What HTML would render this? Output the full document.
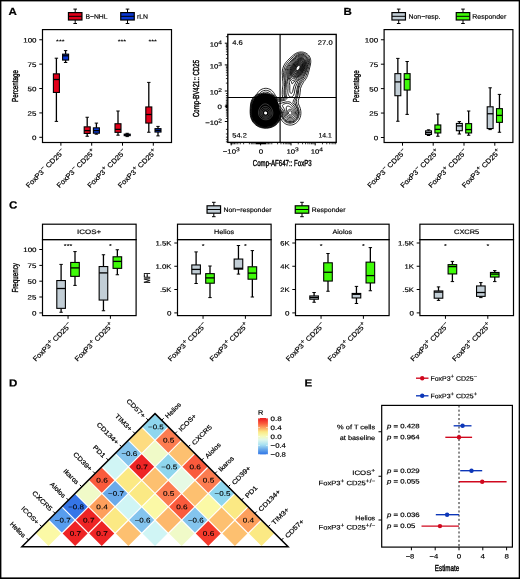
<!DOCTYPE html>
<html lang="en">
<head>
<meta charset="utf-8">
<title>Figure</title>
<style>
html,body{margin:0;padding:0;background:#fff;}
body{width:520px;height:579px;overflow:hidden;position:relative;}
svg{display:block;position:absolute;left:0;top:0;}
svg text{font-family:"Liberation Sans", "DejaVu Sans", sans-serif;}
</style>
</head>
<body>
<svg width="520" height="579" viewBox="0 0 520 579">
<rect x="0" y="0" width="520" height="579" fill="#fff"/>
<text transform="translate(8.40 14.90) rotate(0.03) scale(1.12 1)" font-size="10.30" text-anchor="start" fill="#000" font-weight="bold" stroke="#000" stroke-width="0.20">A</text>
<line x1="75.20" y1="9.10" x2="75.20" y2="23.50" stroke="#000" stroke-width="1.00"/>
<line x1="73.40" y1="9.10" x2="77.00" y2="9.10" stroke="#000" stroke-width="1.00"/>
<line x1="73.40" y1="23.50" x2="77.00" y2="23.50" stroke="#000" stroke-width="1.00"/>
<rect x="68.45" y="12.60" width="13.50" height="7.40" fill="#e2001a" stroke="#000" stroke-width="1.20"/>
<line x1="68.45" y1="16.30" x2="81.95" y2="16.30" stroke="#000" stroke-width="1.00"/>
<text transform="translate(85.40 18.70) rotate(0.03) scale(1.051 1)" font-size="6.50" text-anchor="start" fill="#000" stroke="#000" stroke-width="0.17">B−NHL</text>
<line x1="127.50" y1="9.10" x2="127.50" y2="23.50" stroke="#000" stroke-width="1.00"/>
<line x1="125.70" y1="9.10" x2="129.30" y2="9.10" stroke="#000" stroke-width="1.00"/>
<line x1="125.70" y1="23.50" x2="129.30" y2="23.50" stroke="#000" stroke-width="1.00"/>
<rect x="120.75" y="12.60" width="13.50" height="7.40" fill="#0a38d2" stroke="#000" stroke-width="1.20"/>
<line x1="120.75" y1="16.30" x2="134.25" y2="16.30" stroke="#000" stroke-width="1.00"/>
<text transform="translate(137.00 18.70) rotate(0.03) scale(1.061 1)" font-size="6.50" text-anchor="start" fill="#000" stroke="#000" stroke-width="0.17">rLN</text>
<rect x="42.50" y="29.60" width="129.00" height="112.90" fill="none" stroke="#000" stroke-width="1.20"/>
<line x1="39.30" y1="137.30" x2="42.50" y2="137.30" stroke="#000" stroke-width="1.00"/>
<text transform="translate(36.50 140.05) rotate(0.03) scale(1.23 1)" font-size="6.50" text-anchor="end" fill="#000" stroke="#000" stroke-width="0.17">0</text>
<line x1="39.30" y1="112.91" x2="42.50" y2="112.91" stroke="#000" stroke-width="1.00"/>
<text transform="translate(36.50 115.66) rotate(0.03) scale(1.23 1)" font-size="6.50" text-anchor="end" fill="#000" stroke="#000" stroke-width="0.17">25</text>
<line x1="39.30" y1="88.53" x2="42.50" y2="88.53" stroke="#000" stroke-width="1.00"/>
<text transform="translate(36.50 91.28) rotate(0.03) scale(1.23 1)" font-size="6.50" text-anchor="end" fill="#000" stroke="#000" stroke-width="0.17">50</text>
<line x1="39.30" y1="64.14" x2="42.50" y2="64.14" stroke="#000" stroke-width="1.00"/>
<text transform="translate(36.50 66.89) rotate(0.03) scale(1.23 1)" font-size="6.50" text-anchor="end" fill="#000" stroke="#000" stroke-width="0.17">75</text>
<line x1="39.30" y1="39.75" x2="42.50" y2="39.75" stroke="#000" stroke-width="1.00"/>
<text transform="translate(36.50 42.50) rotate(0.03) scale(1.23 1)" font-size="6.50" text-anchor="end" fill="#000" stroke="#000" stroke-width="0.17">100</text>
<text transform="translate(17.80 86.00) rotate(-89.97) scale(0.72 1)" font-size="8.70" text-anchor="middle" fill="#000" stroke="#000" stroke-width="0.40">Percentage</text>
<line x1="60.90" y1="142.50" x2="60.90" y2="145.70" stroke="#000" stroke-width="1.00"/>
<text transform="translate(64.85 152.05) rotate(-45) scale(1.09 1)" font-size="7.00" text-anchor="end" fill="#000" stroke="#000" stroke-width="0.20">FoxP3<tspan dy="-2.80" font-size="5.95">−</tspan><tspan dy="2.80" font-size="7.00">&#8203;</tspan> CD25<tspan dy="-2.80" font-size="5.95">−</tspan><tspan dy="2.80" font-size="7.00">&#8203;</tspan></text>
<line x1="91.70" y1="142.50" x2="91.70" y2="145.70" stroke="#000" stroke-width="1.00"/>
<text transform="translate(95.75 152.05) rotate(-45) scale(1.09 1)" font-size="7.00" text-anchor="end" fill="#000" stroke="#000" stroke-width="0.20">FoxP3<tspan dy="-2.80" font-size="5.95">−</tspan><tspan dy="2.80" font-size="7.00">&#8203;</tspan> CD25<tspan dy="-2.80" font-size="5.95">+</tspan><tspan dy="2.80" font-size="7.00">&#8203;</tspan></text>
<line x1="122.50" y1="142.50" x2="122.50" y2="145.70" stroke="#000" stroke-width="1.00"/>
<text transform="translate(126.45 152.05) rotate(-45) scale(1.09 1)" font-size="7.00" text-anchor="end" fill="#000" stroke="#000" stroke-width="0.20">FoxP3<tspan dy="-2.80" font-size="5.95">+</tspan><tspan dy="2.80" font-size="7.00">&#8203;</tspan> CD25<tspan dy="-2.80" font-size="5.95">−</tspan><tspan dy="2.80" font-size="7.00">&#8203;</tspan></text>
<line x1="153.30" y1="142.50" x2="153.30" y2="145.70" stroke="#000" stroke-width="1.00"/>
<text transform="translate(157.05 152.05) rotate(-45) scale(1.09 1)" font-size="7.00" text-anchor="end" fill="#000" stroke="#000" stroke-width="0.20">FoxP3<tspan dy="-2.80" font-size="5.95">+</tspan><tspan dy="2.80" font-size="7.00">&#8203;</tspan> CD25<tspan dy="-2.80" font-size="5.95">+</tspan><tspan dy="2.80" font-size="7.00">&#8203;</tspan></text>
<line x1="56.40" y1="58.20" x2="56.40" y2="73.85" stroke="#000" stroke-width="1.30"/>
<line x1="56.40" y1="92.45" x2="56.40" y2="121.40" stroke="#000" stroke-width="1.30"/>
<line x1="54.70" y1="58.20" x2="58.10" y2="58.20" stroke="#000" stroke-width="1.00"/>
<line x1="54.70" y1="121.40" x2="58.10" y2="121.40" stroke="#000" stroke-width="1.00"/>
<rect x="53.40" y="73.85" width="6.00" height="18.60" fill="#e2001a" stroke="#000" stroke-width="1.10"/>
<line x1="53.40" y1="79.50" x2="59.40" y2="79.50" stroke="#000" stroke-width="1.30"/>
<line x1="65.60" y1="50.60" x2="65.60" y2="54.15" stroke="#000" stroke-width="1.30"/>
<line x1="65.60" y1="60.05" x2="65.60" y2="62.50" stroke="#000" stroke-width="1.30"/>
<line x1="63.90" y1="50.60" x2="67.30" y2="50.60" stroke="#000" stroke-width="1.00"/>
<line x1="63.90" y1="62.50" x2="67.30" y2="62.50" stroke="#000" stroke-width="1.00"/>
<rect x="62.60" y="54.15" width="6.00" height="5.90" fill="#0a38d2" stroke="#000" stroke-width="1.10"/>
<line x1="62.60" y1="55.80" x2="68.60" y2="55.80" stroke="#000" stroke-width="1.30"/>
<line x1="87.20" y1="117.25" x2="87.20" y2="126.85" stroke="#000" stroke-width="1.30"/>
<line x1="87.20" y1="133.45" x2="87.20" y2="136.25" stroke="#000" stroke-width="1.30"/>
<line x1="85.50" y1="117.25" x2="88.90" y2="117.25" stroke="#000" stroke-width="1.00"/>
<line x1="85.50" y1="136.25" x2="88.90" y2="136.25" stroke="#000" stroke-width="1.00"/>
<rect x="84.20" y="126.85" width="6.00" height="6.60" fill="#e2001a" stroke="#000" stroke-width="1.10"/>
<line x1="84.20" y1="130.60" x2="90.20" y2="130.60" stroke="#000" stroke-width="1.30"/>
<line x1="96.40" y1="123.10" x2="96.40" y2="127.85" stroke="#000" stroke-width="1.30"/>
<line x1="96.40" y1="133.20" x2="96.40" y2="134.20" stroke="#000" stroke-width="1.30"/>
<line x1="94.70" y1="123.10" x2="98.10" y2="123.10" stroke="#000" stroke-width="1.00"/>
<line x1="94.70" y1="134.20" x2="98.10" y2="134.20" stroke="#000" stroke-width="1.00"/>
<rect x="93.40" y="127.85" width="6.00" height="5.35" fill="#0a38d2" stroke="#000" stroke-width="1.10"/>
<line x1="93.40" y1="130.60" x2="99.40" y2="130.60" stroke="#000" stroke-width="1.30"/>
<line x1="118.00" y1="111.00" x2="118.00" y2="123.75" stroke="#000" stroke-width="1.30"/>
<line x1="118.00" y1="132.35" x2="118.00" y2="135.20" stroke="#000" stroke-width="1.30"/>
<line x1="116.30" y1="111.00" x2="119.70" y2="111.00" stroke="#000" stroke-width="1.00"/>
<line x1="116.30" y1="135.20" x2="119.70" y2="135.20" stroke="#000" stroke-width="1.00"/>
<rect x="115.00" y="123.75" width="6.00" height="8.60" fill="#e2001a" stroke="#000" stroke-width="1.10"/>
<line x1="115.00" y1="129.40" x2="121.00" y2="129.40" stroke="#000" stroke-width="1.30"/>
<line x1="127.20" y1="133.30" x2="127.20" y2="134.15" stroke="#000" stroke-width="1.30"/>
<line x1="127.20" y1="135.65" x2="127.20" y2="136.60" stroke="#000" stroke-width="1.30"/>
<line x1="125.50" y1="133.30" x2="128.90" y2="133.30" stroke="#000" stroke-width="1.00"/>
<line x1="125.50" y1="136.60" x2="128.90" y2="136.60" stroke="#000" stroke-width="1.00"/>
<rect x="124.20" y="134.15" width="6.00" height="1.50" fill="#0a38d2" stroke="#000" stroke-width="1.10"/>
<line x1="124.20" y1="134.90" x2="130.20" y2="134.90" stroke="#000" stroke-width="1.30"/>
<line x1="148.80" y1="82.40" x2="148.80" y2="106.95" stroke="#000" stroke-width="1.30"/>
<line x1="148.80" y1="123.05" x2="148.80" y2="132.25" stroke="#000" stroke-width="1.30"/>
<line x1="147.10" y1="82.40" x2="150.50" y2="82.40" stroke="#000" stroke-width="1.00"/>
<line x1="147.10" y1="132.25" x2="150.50" y2="132.25" stroke="#000" stroke-width="1.00"/>
<rect x="145.80" y="106.95" width="6.00" height="16.10" fill="#e2001a" stroke="#000" stroke-width="1.10"/>
<line x1="145.80" y1="114.50" x2="151.80" y2="114.50" stroke="#000" stroke-width="1.30"/>
<line x1="158.00" y1="126.40" x2="158.00" y2="128.65" stroke="#000" stroke-width="1.30"/>
<line x1="158.00" y1="132.05" x2="158.00" y2="135.90" stroke="#000" stroke-width="1.30"/>
<line x1="156.30" y1="126.40" x2="159.70" y2="126.40" stroke="#000" stroke-width="1.00"/>
<line x1="156.30" y1="135.90" x2="159.70" y2="135.90" stroke="#000" stroke-width="1.00"/>
<rect x="155.00" y="128.65" width="6.00" height="3.40" fill="#0a38d2" stroke="#000" stroke-width="1.10"/>
<line x1="155.00" y1="130.40" x2="161.00" y2="130.40" stroke="#000" stroke-width="1.30"/>
<text transform="translate(60.30 43.50) rotate(0.03) scale(1.2 1)" font-size="6.00" text-anchor="middle" fill="#000" font-weight="bold">***</text>
<text transform="translate(121.90 43.50) rotate(0.03) scale(1.2 1)" font-size="6.00" text-anchor="middle" fill="#000" font-weight="bold">***</text>
<text transform="translate(152.70 43.50) rotate(0.03) scale(1.2 1)" font-size="6.00" text-anchor="middle" fill="#000" font-weight="bold">***</text>
<g id="flow">
<path fill="#000" fill-rule="evenodd" stroke="none" d="M263.11 93.60 264.60 93.48 266.20 93.52 267.80 93.73 269.40 94.12 270.80 94.63 272.20 95.32 273.40 96.10 274.50 97.00 275.40 97.92 276.26 99.00 277.02 100.20 277.71 101.60 278.26 103.00 278.82 104.80 279.36 107.00 279.73 109.00 279.96 110.80 280.06 112.40 280.02 114.00 279.87 115.40 279.59 116.80 279.17 118.20 278.57 119.60 277.90 120.80 277.05 122.00 276.16 123.00 275.04 124.00 273.91 124.80 272.80 125.42 271.40 126.03 270.00 126.47 268.39 126.80 267.00 126.95 265.40 126.99 263.80 126.88 262.40 126.65 261.00 126.30 259.60 125.79 258.40 125.22 257.20 124.49 256.20 123.73 255.20 122.79 254.34 121.80 253.51 120.60 252.85 119.40 252.26 118.00 251.84 116.60 251.56 115.20 251.36 113.40 251.33 111.40 251.45 109.00 251.70 106.40 252.00 104.40 252.35 102.80 252.80 101.40 253.43 100.00 254.20 98.73 255.11 97.60 256.20 96.55 257.40 95.66 258.60 94.97 260.00 94.36 261.60 93.88ZM265.16 111.60 265.60 111.56 266.20 111.71 266.63 112.00 267.04 112.60 267.13 113.20 267.00 113.71 266.61 114.20 266.20 114.43 265.60 114.52 265.00 114.40 264.43 114.00 264.17 113.60 264.04 113.00 264.18 112.40 264.60 111.87Z"/><path fill="none" stroke="#fff" stroke-opacity="0.45" stroke-width="0.5" d="M265.10 109.80 265.80 109.78 266.40 109.89 267.00 110.12 267.45 110.40 268.00 110.88 268.40 111.40 268.70 112.00 268.86 112.60 268.91 113.20 268.84 113.80 268.63 114.40 268.40 114.80 268.00 115.26 267.57 115.60 267.00 115.89 266.40 116.07 265.80 116.14 265.00 116.06 264.40 115.88 263.85 115.60 263.40 115.25 263.00 114.80 262.65 114.20 262.47 113.60 262.41 113.00 262.47 112.40 262.64 111.80 263.00 111.14 263.46 110.60 263.99 110.20 264.60 109.92ZM265.36 108.20 266.20 108.27 267.00 108.52 267.80 108.94 268.60 109.58 269.20 110.28 269.63 111.00 269.95 111.80 270.14 112.80 270.12 113.60 269.95 114.40 269.60 115.17 269.14 115.80 268.48 116.40 267.80 116.80 267.00 117.10 266.00 117.26 265.00 117.21 264.20 117.02 263.40 116.67 262.70 116.20 262.10 115.60 261.59 114.80 261.29 114.00 261.16 113.20 261.20 112.24 261.40 111.40 261.74 110.60 262.27 109.80 262.86 109.20 263.60 108.68 264.40 108.35ZM264.11 106.60 265.20 106.42 266.20 106.50 267.40 106.91 268.40 107.52 269.40 108.41 270.19 109.40 270.80 110.51 271.17 111.60 271.35 112.80 271.31 113.80 271.09 114.80 270.62 115.80 270.00 116.63 269.20 117.33 268.20 117.89 267.20 118.22 266.00 118.38 264.80 118.31 263.80 118.07 262.73 117.60 261.80 116.95 261.08 116.20 260.46 115.20 260.10 114.20 259.94 113.20 259.98 112.00 260.25 110.80 260.76 109.60 261.40 108.60 262.20 107.72 263.20 106.99ZM264.15 104.00 265.40 103.89 266.60 104.09 268.00 104.71 269.20 105.58 270.40 106.82 271.40 108.23 272.18 109.80 272.66 111.40 272.83 112.80 272.74 114.20 272.40 115.50 271.80 116.70 271.00 117.70 270.00 118.54 268.80 119.18 267.40 119.61 266.00 119.76 264.40 119.64 263.00 119.26 261.66 118.60 260.60 117.79 259.73 116.80 259.05 115.60 258.61 114.20 258.47 112.60 258.63 111.00 259.08 109.40 259.80 107.81 260.80 106.29 261.80 105.24 263.00 104.42Z"/><path fill="#000" fill-opacity="0.5" fill-rule="evenodd" stroke="none" d="M299.95 57.60 300.60 57.49 301.40 57.47 302.20 57.58 302.80 57.77 303.40 58.05 304.00 58.47 304.85 59.40 305.44 60.60 305.74 62.00 305.74 63.60 305.41 65.60 304.66 68.20 303.70 70.60 302.60 72.68 301.40 74.40 300.00 75.90 298.60 76.96 297.00 77.74 296.20 77.96 295.40 78.08 294.00 78.02 292.67 77.60 291.60 76.92 291.06 76.40 290.60 75.82 289.95 74.60 289.55 73.20 289.44 71.60 289.65 70.00 290.23 68.20 291.17 66.40 292.44 64.60 295.20 61.20 296.44 59.80 297.60 58.75 298.80 58.01ZM298.71 65.60 299.40 65.57 299.80 65.92 299.99 66.80 299.80 67.80 299.40 68.62 299.00 69.20 298.60 69.60 297.80 70.03 297.00 70.03 296.72 69.80 296.56 69.60 296.45 69.20 296.45 68.60 296.58 68.00 296.80 67.51 297.39 66.60 298.00 65.99Z"/><path fill="none" stroke="#000" stroke-width="0.85" stroke-linejoin="round" d="M299.23 52.20 300.00 52.05 301.60 52.01 302.60 52.07 303.60 52.26 304.40 52.48 305.80 53.06 306.80 53.66 307.60 54.28 308.35 55.00 309.15 56.00 309.93 57.40 310.52 59.20 310.74 60.60 310.77 61.40 310.73 62.60 310.35 65.00 308.54 72.40 307.55 75.60 306.75 77.40 305.73 79.20 304.71 80.60 303.60 81.80 302.60 83.79 301.60 85.51 300.50 88.40 300.09 92.80 299.77 95.20 299.18 97.80 298.31 100.20 298.19 102.20 298.49 103.80 298.87 105.00 299.71 106.80 300.32 108.60 300.67 110.20 300.87 111.80 300.88 113.80 300.65 115.60 300.16 117.40 299.48 119.00 298.65 120.40 297.70 121.60 296.60 122.67 295.40 123.55 294.20 124.20 292.80 124.71 291.40 125.00 290.00 125.08 288.60 124.95 287.20 124.60 285.80 124.02 284.60 123.30 283.40 122.34 282.40 121.28 281.61 120.20 280.72 118.60 280.60 118.54 279.71 120.20 278.60 121.89 277.80 122.96 277.05 123.80 276.00 124.77 275.00 125.53 273.80 126.26 272.60 126.85 271.20 127.37 269.80 127.75 268.20 128.04 266.60 128.18 265.00 128.18 263.40 128.05 261.80 127.77 260.40 127.39 258.80 126.79 257.20 125.95 255.80 124.98 254.40 123.72 253.27 122.40 252.34 121.00 251.53 119.40 250.89 117.60 250.43 115.60 250.18 113.40 250.13 111.00 250.27 107.80 250.51 105.00 250.83 103.00 251.32 101.20 252.07 99.40 252.77 98.20 253.67 97.00 255.00 95.66 256.69 94.40 258.09 92.20 258.80 91.38 259.60 90.62 260.80 89.75 262.20 89.03 263.60 88.57 265.20 88.34 266.80 88.38 268.40 88.72 270.00 89.37 271.40 90.26 272.48 91.20 273.52 92.40 274.20 93.41 275.47 95.60 276.05 96.40 276.80 97.13 277.60 97.65 278.94 98.20 280.00 98.32 282.00 97.95 282.64 97.60 282.72 97.40 282.45 96.00 282.27 94.40 282.22 92.00 282.43 89.20 283.02 85.00 282.85 81.80 282.42 78.20 282.41 75.20 282.25 74.00 282.23 72.20 282.46 70.00 282.88 68.20 283.28 67.00 284.28 64.80 284.86 63.80 285.85 62.40 286.86 61.20 287.80 60.24 292.20 56.09 293.80 54.71 295.60 53.49 297.40 52.65 298.60 52.29ZM299.78 53.20 300.80 53.10 301.80 53.11 303.60 53.41 304.60 53.74 305.40 54.12 306.20 54.60 306.96 55.20 307.60 55.84 308.20 56.59 308.69 57.40 309.06 58.20 309.57 60.00 309.70 62.00 309.52 63.80 308.99 66.20 307.36 72.00 306.32 75.00 305.58 76.60 304.78 78.00 302.60 81.12 301.60 82.40 300.47 84.20 299.20 87.46 298.76 89.00 298.35 93.00 297.94 95.40 297.45 97.20 296.70 99.00 296.53 99.60 296.32 101.60 296.77 104.00 297.27 105.20 297.71 106.60 298.65 108.80 299.02 110.20 299.26 111.80 299.28 113.60 299.08 115.20 298.63 116.80 298.02 118.20 297.20 119.51 296.27 120.60 295.20 121.53 294.00 122.28 292.80 122.80 291.40 123.14 290.00 123.23 288.80 123.12 287.40 122.75 286.20 122.20 285.00 121.41 284.10 120.60 283.20 119.54 282.40 118.24 281.85 117.00 281.40 115.50 281.34 115.80 281.20 115.99 280.75 117.20 279.78 119.20 278.00 122.05 277.06 123.20 276.04 124.20 275.00 125.03 273.80 125.80 272.40 126.49 271.00 127.01 269.40 127.43 267.80 127.68 266.20 127.79 264.40 127.74 262.80 127.55 261.21 127.20 259.40 126.59 257.80 125.82 256.40 124.92 255.07 123.80 253.80 122.41 252.82 121.00 251.98 119.40 251.37 117.80 250.87 115.80 250.61 113.80 250.54 111.40 250.65 108.60 250.93 105.40 251.28 103.20 251.80 101.31 252.53 99.60 253.23 98.40 254.15 97.20 255.13 96.20 256.20 95.33 257.66 94.40 259.38 93.60 260.74 92.20 262.20 91.21 263.80 90.58 265.40 90.33 266.60 90.37 267.80 90.61 269.00 91.06 270.20 91.76 271.59 93.00 272.82 94.60 274.31 95.60 275.60 96.73 276.56 97.80 277.40 98.97 278.40 99.18 279.80 99.32 280.20 99.33 281.14 99.20 282.40 98.92 284.52 97.80 284.56 97.20 284.10 95.00 283.94 92.60 284.06 90.00 284.51 86.40 284.48 84.80 284.32 82.60 284.28 80.60 283.67 76.00 283.57 74.20 283.64 72.60 283.90 70.40 284.19 69.00 284.55 67.80 285.02 66.60 285.62 65.40 286.36 64.20 287.09 63.20 288.49 61.60 293.46 56.60 295.00 55.27 296.60 54.25 298.20 53.57ZM300.74 54.20 302.40 54.27 304.00 54.68 305.40 55.39 306.63 56.40 307.56 57.60 308.23 59.00 308.61 60.60 308.67 62.40 308.41 64.40 307.82 66.80 306.52 71.00 305.40 73.95 304.20 76.32 302.58 79.00 301.60 80.41 300.48 82.40 299.40 83.99 298.91 85.00 297.90 89.20 297.46 93.00 297.01 95.40 296.51 97.00 295.77 98.60 295.40 99.75 294.94 100.80 294.77 102.00 295.26 104.00 295.80 105.00 296.60 106.26 297.54 108.20 298.04 109.60 298.39 111.20 298.52 113.00 298.39 114.60 298.01 116.20 297.44 117.60 296.60 118.97 295.60 120.12 294.40 121.09 293.06 121.80 291.60 122.24 290.20 122.38 288.80 122.25 287.40 121.83 286.20 121.23 285.00 120.32 284.00 119.25 283.20 118.05 282.61 116.80 282.22 115.60 281.90 114.00 281.66 111.80 281.40 111.29 281.31 111.40 281.24 112.00 281.15 113.60 280.98 114.80 280.68 116.00 280.31 117.00 279.31 119.20 278.11 121.20 277.06 122.60 276.00 123.70 274.80 124.68 273.40 125.56 272.20 126.14 270.60 126.72 269.00 127.10 267.40 127.32 265.60 127.39 264.00 127.31 261.80 126.94 260.20 126.46 258.40 125.68 256.80 124.71 255.40 123.55 254.15 122.20 252.92 120.40 252.07 118.60 251.49 116.80 251.10 114.80 250.94 112.60 250.96 110.40 251.14 107.60 251.53 104.40 252.08 102.00 252.87 100.00 253.69 98.60 254.63 97.40 256.00 96.09 257.40 95.09 259.40 94.09 260.60 93.67 262.31 93.20 263.00 92.79 263.80 92.45 264.60 92.24 265.60 92.12 267.00 92.25 268.20 92.63 269.20 93.18 270.01 93.80 271.60 94.48 273.00 95.26 274.40 96.28 275.39 97.20 276.26 98.20 277.60 100.02 279.80 100.22 280.40 100.24 281.00 100.16 282.60 99.88 283.87 99.40 285.00 98.85 285.56 98.00 285.61 97.80 285.53 97.00 285.03 95.00 284.83 93.00 284.89 90.40 285.27 87.00 285.45 82.00 285.33 80.80 285.01 79.20 284.82 77.60 284.77 73.60 285.01 71.20 285.63 68.80 286.11 67.60 286.71 66.40 287.41 65.20 288.12 64.20 289.30 62.80 294.60 57.13 296.00 55.95 297.60 55.00 299.20 54.44ZM300.20 55.00 301.80 54.96 303.40 55.28 304.80 55.93 305.92 56.80 306.89 58.00 307.56 59.40 307.91 61.00 307.96 62.60 307.69 64.60 307.10 67.00 306.07 70.20 304.98 73.00 304.10 74.80 303.00 76.64 302.20 77.81 300.62 79.80 299.40 81.87 297.85 85.40 296.81 89.60 296.40 92.95 295.91 95.20 295.31 96.80 294.64 98.00 294.13 99.20 293.54 100.20 293.26 101.40 292.90 102.40 292.89 102.60 293.16 103.00 294.40 104.25 295.86 106.40 296.89 108.40 297.47 110.00 297.82 111.80 297.85 113.60 297.56 115.40 297.00 116.97 296.20 118.36 295.20 119.54 294.00 120.49 292.80 121.12 291.40 121.53 290.00 121.64 288.60 121.45 287.20 120.95 286.20 120.37 285.20 119.55 284.40 118.65 283.72 117.60 283.16 116.40 282.75 115.00 282.52 113.60 282.38 111.80 281.54 110.20 280.60 109.16 280.51 109.40 280.60 111.40 280.58 113.00 280.49 114.00 280.24 115.40 279.61 117.40 279.12 118.60 278.14 120.40 277.35 121.60 276.53 122.60 275.52 123.60 274.40 124.47 273.20 125.21 272.00 125.79 270.60 126.30 269.20 126.65 267.60 126.90 265.40 126.99 263.20 126.80 261.00 126.30 259.00 125.52 257.20 124.49 255.61 123.20 254.20 121.61 253.16 120.00 252.34 118.20 251.79 116.40 251.45 114.40 251.32 112.00 251.48 108.60 251.89 105.00 252.41 102.60 253.13 100.60 253.89 99.20 254.93 97.80 256.14 96.60 257.49 95.60 259.00 94.78 260.80 94.09 262.60 93.68 264.40 93.49 266.60 93.55 268.60 93.90 270.60 94.55 272.33 95.40 273.80 96.40 275.20 97.69 276.20 98.92 277.80 101.28 278.80 101.31 280.80 101.16 283.00 100.74 285.60 99.95 286.44 99.20 287.06 98.20 286.81 97.00 286.17 95.00 285.89 92.80 285.91 90.60 286.21 87.60 286.32 83.00 286.11 80.80 286.06 78.60 285.87 75.80 285.94 73.20 286.07 71.60 286.26 70.40 286.56 69.20 286.99 68.00 287.45 67.00 288.69 65.00 289.80 63.62 294.81 58.00 296.11 56.80 297.40 55.94 298.80 55.32ZM300.55 55.80 301.40 55.77 302.20 55.85 303.60 56.25 304.88 57.00 305.54 57.60 306.00 58.15 306.70 59.40 306.97 60.20 307.14 61.00 307.22 62.60 306.98 64.60 306.44 66.80 305.68 69.20 304.80 71.48 303.89 73.40 302.74 75.40 301.80 76.79 300.40 78.61 299.20 79.88 297.95 81.40 297.00 83.69 295.87 86.00 294.90 89.80 294.58 92.00 294.22 93.60 293.60 95.15 292.86 96.20 292.20 96.75 291.40 97.06 290.80 97.11 290.00 96.83 289.40 96.40 288.80 95.65 288.37 94.80 288.07 93.80 287.87 92.60 287.81 91.40 287.99 88.60 288.00 84.40 287.59 81.40 287.47 78.20 287.24 77.00 286.91 74.40 286.89 72.80 287.08 71.20 287.36 70.00 287.81 68.60 288.34 67.40 289.02 66.20 290.35 64.40 294.85 59.20 296.22 57.80 297.60 56.79 299.00 56.14ZM287.58 101.80 288.91 101.80 290.20 102.20 291.07 102.80 292.41 104.20 294.67 107.00 295.70 108.80 296.06 109.60 296.39 110.60 296.60 111.60 296.69 112.60 296.56 114.40 296.10 116.00 295.72 116.80 295.22 117.60 294.11 118.80 292.80 119.67 292.00 120.00 291.20 120.20 290.40 120.28 289.60 120.26 288.20 119.94 287.20 119.46 286.40 118.91 285.60 118.13 284.91 117.20 284.39 116.20 283.98 115.00 283.73 113.60 283.62 111.60 282.99 110.00 282.00 108.64 280.17 106.80 279.60 106.04 279.00 105.60 279.00 105.00 278.80 104.80 278.80 104.40 278.60 104.20 278.60 103.81 279.60 103.43 281.60 103.13 283.00 102.66 285.20 102.09ZM299.80 56.80 300.60 56.66 301.40 56.64 302.80 56.88 303.57 57.20 304.20 57.58 304.80 58.08 305.27 58.60 305.67 59.20 306.00 59.88 306.40 61.40 306.46 63.00 306.19 65.00 305.56 67.40 304.64 70.00 303.65 72.20 302.51 74.20 301.60 75.58 300.06 77.60 299.00 78.73 297.60 80.43 295.94 82.00 295.04 84.00 293.92 86.20 292.60 91.72 292.34 92.40 292.00 92.97 291.60 93.35 291.20 93.49 290.80 93.42 290.40 93.08 290.12 92.60 289.93 92.00 289.78 90.60 289.80 85.20 289.34 82.80 289.09 80.20 288.32 78.00 287.94 75.80 287.83 73.00 288.06 71.00 288.58 69.20 289.32 67.60 290.14 66.20 291.34 64.60 295.40 59.83 296.58 58.60 297.40 57.93 298.20 57.43 299.00 57.05ZM286.29 103.40 287.60 103.38 288.72 103.60 289.67 104.00 290.80 104.77 291.60 105.58 292.30 106.60 293.20 107.40 293.80 108.10 294.71 109.60 295.13 110.60 295.43 111.80 295.50 113.20 295.35 114.40 294.96 115.60 294.40 116.61 293.60 117.55 292.60 118.29 291.60 118.73 290.60 118.93 289.60 118.91 288.60 118.67 287.80 118.30 287.00 117.73 286.29 117.00 285.75 116.20 285.30 115.20 284.93 113.60 284.90 111.40 284.47 109.60 283.92 108.40 282.68 106.40 282.44 105.60 282.53 105.20 282.79 104.80 283.40 104.30 284.20 103.95 285.40 103.58ZM300.38 57.60 301.00 57.54 301.80 57.59 302.60 57.78 303.20 58.04 304.24 58.80 304.75 59.40 305.11 60.00 305.58 61.40 305.70 63.00 305.51 64.80 304.98 67.00 304.15 69.40 303.20 71.48 301.85 73.80 300.40 75.81 297.80 78.84 296.80 79.88 295.20 81.19 293.39 82.20 293.08 82.80 292.80 83.28 292.40 83.74 292.20 83.83 292.00 83.75 291.80 83.45 291.60 82.84 291.39 81.60 290.80 80.93 290.18 80.00 289.68 79.00 289.24 77.80 288.88 76.20 288.74 74.40 288.86 72.00 289.21 70.20 289.55 69.20 290.00 68.20 291.35 66.00 292.58 64.40 295.98 60.40 297.17 59.20 298.20 58.43 299.20 57.92ZM287.36 106.20 288.00 106.10 288.60 106.16 289.60 106.62 290.40 107.11 291.20 107.81 292.00 108.30 292.60 108.82 293.37 109.80 293.82 110.60 294.12 111.40 294.28 112.20 294.32 113.20 294.22 114.00 293.98 114.80 293.59 115.60 293.00 116.36 292.40 116.88 291.60 117.33 290.80 117.56 290.00 117.60 289.20 117.47 288.40 117.14 287.64 116.60 287.09 116.00 286.61 115.20 286.25 114.20 286.08 113.00 286.09 112.20 286.25 111.20 286.34 107.40 286.42 107.00 286.64 106.60 287.00 106.32ZM300.15 58.60 301.40 58.52 302.00 58.62 302.60 58.83 303.20 59.18 303.60 59.51 304.03 60.00 304.39 60.60 304.79 61.80 304.92 63.20 304.78 64.80 304.40 66.60 303.83 68.40 303.07 70.20 302.00 72.19 301.07 73.60 299.60 75.48 297.00 78.30 295.60 79.49 294.39 80.20 293.80 80.41 293.20 80.50 292.60 80.43 292.20 80.26 291.60 79.80 291.20 79.34 290.40 77.94 289.85 76.20 289.64 74.40 289.71 72.80 290.11 70.40 290.68 68.80 291.41 67.40 292.80 65.40 294.25 63.60 296.40 61.13 297.60 59.95 298.80 59.11 299.40 58.83ZM289.12 109.40 289.80 109.29 290.40 109.30 291.00 109.48 291.40 109.70 292.00 110.17 292.38 110.60 292.75 111.20 292.98 111.80 293.11 112.40 293.13 113.20 293.04 113.80 292.84 114.40 292.51 115.00 292.18 115.40 291.70 115.80 291.20 116.07 290.60 116.24 290.00 116.26 289.00 115.98 288.44 115.60 288.05 115.20 287.67 114.60 287.43 114.00 287.26 112.80 287.34 112.00 287.50 111.40 287.80 110.74 288.30 110.00 288.80 109.55ZM300.22 59.60 300.80 59.53 301.40 59.56 302.40 59.91 303.22 60.60 303.80 61.60 304.08 62.80 304.12 64.00 303.92 65.60 303.47 67.40 302.80 69.20 301.80 71.18 301.00 72.44 299.80 74.02 299.00 74.90 296.60 77.28 295.40 78.15 294.40 78.61 293.40 78.75 292.81 78.60 292.40 78.37 292.00 78.01 291.60 77.50 291.05 76.40 290.69 75.00 290.59 73.40 290.73 72.00 291.17 70.00 291.70 68.60 292.47 67.20 293.90 65.20 295.20 63.62 297.00 61.65 298.00 60.73 299.20 59.95ZM289.42 111.00 290.00 110.82 290.40 110.83 290.80 110.96 291.40 111.41 291.80 112.09 291.95 113.00 291.80 113.73 291.40 114.38 290.81 114.80 290.40 114.91 290.00 114.91 289.40 114.70 288.85 114.20 288.55 113.60 288.44 112.80 288.59 112.00 288.94 111.40ZM299.74 60.80 300.80 60.63 301.60 60.79 302.00 61.00 302.40 61.33 302.88 62.00 303.22 63.00 303.32 64.20 303.20 65.60 302.83 67.20 302.26 68.80 301.48 70.40 300.74 71.60 299.67 73.00 298.80 73.94 296.80 75.74 295.80 76.44 295.02 76.80 294.00 76.97 293.20 76.75 292.55 76.20 292.00 75.26 291.67 74.00 291.60 72.80 291.74 71.60 292.17 69.80 292.61 68.60 293.25 67.40 293.91 66.40 295.30 64.60 296.40 63.37 297.80 62.00 298.80 61.25ZM299.48 62.00 300.20 61.82 301.00 61.89 301.60 62.22 301.95 62.60 302.18 63.00 302.42 63.80 302.50 65.00 302.37 66.20 302.08 67.40 301.64 68.60 300.97 70.00 300.34 71.00 299.40 72.20 298.80 72.84 298.00 73.52 296.60 74.55 295.60 75.05 294.80 75.21 294.00 75.06 293.40 74.60 293.03 74.00 292.78 73.20 292.69 72.20 292.79 71.20 293.14 69.60 293.50 68.60 294.12 67.40 295.80 65.09 296.80 64.00 298.00 62.91 298.80 62.34ZM299.24 63.20 300.00 63.03 300.60 63.13 301.02 63.40 301.40 63.93 301.62 64.60 301.69 65.40 301.61 66.40 301.38 67.40 300.95 68.60 300.47 69.60 299.95 70.40 299.20 71.34 298.00 72.45 296.20 73.39 295.60 73.52 295.00 73.46 294.40 73.08 294.08 72.60 293.90 72.00 293.85 71.20 293.97 70.00 294.15 69.20 294.44 68.40 294.96 67.40 296.26 65.60 297.00 64.80 297.80 64.09 298.60 63.52ZM298.91 64.40 299.40 64.26 300.00 64.31 300.40 64.56 300.60 64.83 300.81 65.40 300.88 66.00 300.69 67.40 300.18 68.80 299.40 70.03 298.80 70.73 298.20 71.27 297.60 71.65 297.00 71.88 296.40 71.95 295.80 71.84 295.43 71.60 295.28 71.40 295.02 70.80 294.94 70.40 294.93 69.80 295.07 69.00 295.67 67.60 296.64 66.20 297.80 65.04 298.40 64.64ZM298.93 65.40 299.20 65.38 299.60 65.52 299.80 65.70 299.96 66.00 300.08 66.80 299.91 67.80 299.47 68.80 298.71 69.80 298.00 70.40 297.20 70.72 296.60 70.66 296.23 70.40 296.10 70.20 295.95 69.80 295.92 69.40 296.10 68.40 296.60 67.40 297.40 66.35 298.20 65.69Z"/>
<line x1="280.10" y1="34.40" x2="280.10" y2="142.40" stroke="#000" stroke-width="1.15"/>
<line x1="227.80" y1="97.55" x2="336.20" y2="97.55" stroke="#000" stroke-width="1.10"/>
<line x1="225.90" y1="58.37" x2="227.80" y2="58.37" stroke="#000" stroke-width="0.80"/>
<line x1="225.90" y1="54.55" x2="227.80" y2="54.55" stroke="#000" stroke-width="0.80"/>
<line x1="225.90" y1="51.84" x2="227.80" y2="51.84" stroke="#000" stroke-width="0.80"/>
<line x1="225.90" y1="49.73" x2="227.80" y2="49.73" stroke="#000" stroke-width="0.80"/>
<line x1="225.90" y1="48.01" x2="227.80" y2="48.01" stroke="#000" stroke-width="0.80"/>
<line x1="225.90" y1="46.56" x2="227.80" y2="46.56" stroke="#000" stroke-width="0.80"/>
<line x1="225.90" y1="45.30" x2="227.80" y2="45.30" stroke="#000" stroke-width="0.80"/>
<line x1="225.90" y1="44.19" x2="227.80" y2="44.19" stroke="#000" stroke-width="0.80"/>
<line x1="225.90" y1="83.14" x2="227.80" y2="83.14" stroke="#000" stroke-width="0.80"/>
<line x1="225.90" y1="78.55" x2="227.80" y2="78.55" stroke="#000" stroke-width="0.80"/>
<line x1="225.90" y1="75.29" x2="227.80" y2="75.29" stroke="#000" stroke-width="0.80"/>
<line x1="225.90" y1="72.76" x2="227.80" y2="72.76" stroke="#000" stroke-width="0.80"/>
<line x1="225.90" y1="70.69" x2="227.80" y2="70.69" stroke="#000" stroke-width="0.80"/>
<line x1="225.90" y1="68.94" x2="227.80" y2="68.94" stroke="#000" stroke-width="0.80"/>
<line x1="225.90" y1="67.43" x2="227.80" y2="67.43" stroke="#000" stroke-width="0.80"/>
<line x1="225.90" y1="66.09" x2="227.80" y2="66.09" stroke="#000" stroke-width="0.80"/>
<line x1="225.90" y1="36.67" x2="227.80" y2="36.67" stroke="#000" stroke-width="0.80"/>
<line x1="225.90" y1="129.36" x2="227.80" y2="129.36" stroke="#000" stroke-width="0.80"/>
<line x1="225.90" y1="133.95" x2="227.80" y2="133.95" stroke="#000" stroke-width="0.80"/>
<line x1="225.90" y1="137.21" x2="227.80" y2="137.21" stroke="#000" stroke-width="0.80"/>
<line x1="225.90" y1="139.74" x2="227.80" y2="139.74" stroke="#000" stroke-width="0.80"/>
<line x1="225.90" y1="141.81" x2="227.80" y2="141.81" stroke="#000" stroke-width="0.80"/>
<line x1="225.90" y1="93.50" x2="227.80" y2="93.50" stroke="#000" stroke-width="0.80"/>
<line x1="225.90" y1="95.50" x2="227.80" y2="95.50" stroke="#000" stroke-width="0.80"/>
<line x1="225.90" y1="97.30" x2="227.80" y2="97.30" stroke="#000" stroke-width="0.80"/>
<line x1="225.90" y1="99.00" x2="227.80" y2="99.00" stroke="#000" stroke-width="0.80"/>
<line x1="225.90" y1="100.60" x2="227.80" y2="100.60" stroke="#000" stroke-width="0.80"/>
<line x1="225.90" y1="102.00" x2="227.80" y2="102.00" stroke="#000" stroke-width="0.80"/>
<line x1="225.90" y1="103.20" x2="227.80" y2="103.20" stroke="#000" stroke-width="0.80"/>
<line x1="225.90" y1="109.30" x2="227.80" y2="109.30" stroke="#000" stroke-width="0.80"/>
<line x1="225.90" y1="110.60" x2="227.80" y2="110.60" stroke="#000" stroke-width="0.80"/>
<line x1="225.90" y1="112.20" x2="227.80" y2="112.20" stroke="#000" stroke-width="0.80"/>
<line x1="225.90" y1="114.00" x2="227.80" y2="114.00" stroke="#000" stroke-width="0.80"/>
<line x1="225.90" y1="116.00" x2="227.80" y2="116.00" stroke="#000" stroke-width="0.80"/>
<line x1="225.90" y1="118.50" x2="227.80" y2="118.50" stroke="#000" stroke-width="0.80"/>
<rect x="225.60" y="104.30" width="2.20" height="3.90" fill="#000" stroke="none" stroke-width="0.00"/>
<line x1="298.28" y1="142.40" x2="298.28" y2="144.30" stroke="#000" stroke-width="0.80"/>
<line x1="302.55" y1="142.40" x2="302.55" y2="144.30" stroke="#000" stroke-width="0.80"/>
<line x1="305.57" y1="142.40" x2="305.57" y2="144.30" stroke="#000" stroke-width="0.80"/>
<line x1="307.92" y1="142.40" x2="307.92" y2="144.30" stroke="#000" stroke-width="0.80"/>
<line x1="309.83" y1="142.40" x2="309.83" y2="144.30" stroke="#000" stroke-width="0.80"/>
<line x1="311.45" y1="142.40" x2="311.45" y2="144.30" stroke="#000" stroke-width="0.80"/>
<line x1="312.85" y1="142.40" x2="312.85" y2="144.30" stroke="#000" stroke-width="0.80"/>
<line x1="314.09" y1="142.40" x2="314.09" y2="144.30" stroke="#000" stroke-width="0.80"/>
<line x1="322.48" y1="142.40" x2="322.48" y2="144.30" stroke="#000" stroke-width="0.80"/>
<line x1="326.75" y1="142.40" x2="326.75" y2="144.30" stroke="#000" stroke-width="0.80"/>
<line x1="329.77" y1="142.40" x2="329.77" y2="144.30" stroke="#000" stroke-width="0.80"/>
<line x1="332.12" y1="142.40" x2="332.12" y2="144.30" stroke="#000" stroke-width="0.80"/>
<line x1="334.03" y1="142.40" x2="334.03" y2="144.30" stroke="#000" stroke-width="0.80"/>
<line x1="335.65" y1="142.40" x2="335.65" y2="144.30" stroke="#000" stroke-width="0.80"/>
<line x1="243.62" y1="142.40" x2="243.62" y2="144.30" stroke="#000" stroke-width="0.80"/>
<line x1="277.58" y1="142.40" x2="277.58" y2="144.30" stroke="#000" stroke-width="0.80"/>
<line x1="240.24" y1="142.40" x2="240.24" y2="144.30" stroke="#000" stroke-width="0.80"/>
<line x1="280.96" y1="142.40" x2="280.96" y2="144.30" stroke="#000" stroke-width="0.80"/>
<line x1="237.84" y1="142.40" x2="237.84" y2="144.30" stroke="#000" stroke-width="0.80"/>
<line x1="283.36" y1="142.40" x2="283.36" y2="144.30" stroke="#000" stroke-width="0.80"/>
<line x1="235.98" y1="142.40" x2="235.98" y2="144.30" stroke="#000" stroke-width="0.80"/>
<line x1="285.22" y1="142.40" x2="285.22" y2="144.30" stroke="#000" stroke-width="0.80"/>
<line x1="234.46" y1="142.40" x2="234.46" y2="144.30" stroke="#000" stroke-width="0.80"/>
<line x1="286.74" y1="142.40" x2="286.74" y2="144.30" stroke="#000" stroke-width="0.80"/>
<line x1="233.17" y1="142.40" x2="233.17" y2="144.30" stroke="#000" stroke-width="0.80"/>
<line x1="288.03" y1="142.40" x2="288.03" y2="144.30" stroke="#000" stroke-width="0.80"/>
<line x1="232.06" y1="142.40" x2="232.06" y2="144.30" stroke="#000" stroke-width="0.80"/>
<line x1="289.14" y1="142.40" x2="289.14" y2="144.30" stroke="#000" stroke-width="0.80"/>
<line x1="231.08" y1="142.40" x2="231.08" y2="144.30" stroke="#000" stroke-width="0.80"/>
<line x1="290.12" y1="142.40" x2="290.12" y2="144.30" stroke="#000" stroke-width="0.80"/>
<line x1="254.10" y1="142.40" x2="254.10" y2="144.30" stroke="#000" stroke-width="0.80"/>
<line x1="267.10" y1="142.40" x2="267.10" y2="144.30" stroke="#000" stroke-width="0.80"/>
<line x1="252.80" y1="142.40" x2="252.80" y2="144.30" stroke="#000" stroke-width="0.80"/>
<line x1="268.40" y1="142.40" x2="268.40" y2="144.30" stroke="#000" stroke-width="0.80"/>
<line x1="251.30" y1="142.40" x2="251.30" y2="144.30" stroke="#000" stroke-width="0.80"/>
<line x1="269.90" y1="142.40" x2="269.90" y2="144.30" stroke="#000" stroke-width="0.80"/>
<line x1="249.40" y1="142.40" x2="249.40" y2="144.30" stroke="#000" stroke-width="0.80"/>
<line x1="271.80" y1="142.40" x2="271.80" y2="144.30" stroke="#000" stroke-width="0.80"/>
<rect x="255.40" y="142.40" width="10.80" height="1.90" fill="#000" stroke="none" stroke-width="0.00"/>
<rect x="227.80" y="34.40" width="108.40" height="108.00" fill="none" stroke="#000" stroke-width="1.35"/>
<text transform="translate(232.20 44.70) rotate(0.03) scale(1.173 1)" font-size="6.50" text-anchor="start" fill="#000" stroke="#000" stroke-width="0.17">4.6</text>
<text transform="translate(332.60 44.70) rotate(0.03) scale(1.168 1)" font-size="6.50" text-anchor="end" fill="#000" stroke="#000" stroke-width="0.17">27.0</text>
<text transform="translate(232.30 137.40) rotate(0.03) scale(1.152 1)" font-size="6.50" text-anchor="start" fill="#000" stroke="#000" stroke-width="0.17">54.2</text>
<text transform="translate(331.70 137.60) rotate(0.03) scale(1.049 1)" font-size="6.50" text-anchor="end" fill="#000" stroke="#000" stroke-width="0.17">14.1</text>
<line x1="224.80" y1="43.20" x2="227.80" y2="43.20" stroke="#000" stroke-width="1.00"/>
<text transform="translate(222.00 46.80) rotate(0.03) scale(1.2 1)" font-size="6.50" text-anchor="end" fill="#000" stroke="#000" stroke-width="0.17">10<tspan dy="-2.60" font-size="5.52">4</tspan><tspan dy="2.60" font-size="6.50">&#8203;</tspan></text>
<line x1="224.80" y1="64.90" x2="227.80" y2="64.90" stroke="#000" stroke-width="1.00"/>
<text transform="translate(222.00 68.50) rotate(0.03) scale(1.2 1)" font-size="6.50" text-anchor="end" fill="#000" stroke="#000" stroke-width="0.17">10<tspan dy="-2.60" font-size="5.52">3</tspan><tspan dy="2.60" font-size="6.50">&#8203;</tspan></text>
<line x1="224.80" y1="91.00" x2="227.80" y2="91.00" stroke="#000" stroke-width="1.00"/>
<text transform="translate(222.00 94.60) rotate(0.03) scale(1.2 1)" font-size="6.50" text-anchor="end" fill="#000" stroke="#000" stroke-width="0.17">10<tspan dy="-2.60" font-size="5.52">2</tspan><tspan dy="2.60" font-size="6.50">&#8203;</tspan></text>
<line x1="224.80" y1="121.50" x2="227.80" y2="121.50" stroke="#000" stroke-width="1.00"/>
<text transform="translate(222.00 125.10) rotate(0.03) scale(1.2 1)" font-size="6.50" text-anchor="end" fill="#000" stroke="#000" stroke-width="0.17">−10<tspan dy="-2.60" font-size="5.52">2</tspan><tspan dy="2.60" font-size="6.50">&#8203;</tspan></text>
<line x1="224.80" y1="106.20" x2="227.80" y2="106.20" stroke="#000" stroke-width="1.00"/>
<text transform="translate(222.00 108.90) rotate(0.03) scale(1.23 1)" font-size="6.50" text-anchor="end" fill="#000" stroke="#000" stroke-width="0.17">0</text>
<line x1="231.20" y1="142.40" x2="231.20" y2="145.40" stroke="#000" stroke-width="1.00"/>
<text transform="translate(231.20 153.80) rotate(0.03) scale(1.2 1)" font-size="6.50" text-anchor="middle" fill="#000" stroke="#000" stroke-width="0.17">−10<tspan dy="-2.60" font-size="5.52">3</tspan><tspan dy="2.60" font-size="6.50">&#8203;</tspan></text>
<line x1="291.00" y1="142.40" x2="291.00" y2="145.40" stroke="#000" stroke-width="1.00"/>
<text transform="translate(292.60 153.80) rotate(0.03) scale(1.2 1)" font-size="6.50" text-anchor="middle" fill="#000" stroke="#000" stroke-width="0.17">10<tspan dy="-2.60" font-size="5.52">3</tspan><tspan dy="2.60" font-size="6.50">&#8203;</tspan></text>
<line x1="315.20" y1="142.40" x2="315.20" y2="145.40" stroke="#000" stroke-width="1.00"/>
<text transform="translate(316.80 153.80) rotate(0.03) scale(1.2 1)" font-size="6.50" text-anchor="middle" fill="#000" stroke="#000" stroke-width="0.17">10<tspan dy="-2.60" font-size="5.52">4</tspan><tspan dy="2.60" font-size="6.50">&#8203;</tspan></text>
<line x1="260.60" y1="142.40" x2="260.60" y2="145.40" stroke="#000" stroke-width="1.00"/>
<text transform="translate(261.00 153.80) rotate(0.03) scale(1.23 1)" font-size="6.50" text-anchor="middle" fill="#000" stroke="#000" stroke-width="0.17">0</text>
<text transform="translate(282.20 165.60) rotate(0.03) scale(0.7 1)" font-size="8.70" text-anchor="middle" fill="#000" stroke="#000" stroke-width="0.40">Comp-AF647:: FoxP3</text>
<text transform="translate(198.60 88.50) rotate(-89.97) scale(0.7 1)" font-size="8.70" text-anchor="middle" fill="#000" stroke="#000" stroke-width="0.40">Comp-BV421:: CD25</text>
</g>
<text transform="translate(343.50 15.00) rotate(0.03) scale(1.12 1)" font-size="10.30" text-anchor="start" fill="#000" font-weight="bold" stroke="#000" stroke-width="0.20">B</text>
<line x1="398.70" y1="9.10" x2="398.70" y2="23.50" stroke="#000" stroke-width="1.00"/>
<line x1="396.90" y1="9.10" x2="400.50" y2="9.10" stroke="#000" stroke-width="1.00"/>
<line x1="396.90" y1="23.50" x2="400.50" y2="23.50" stroke="#000" stroke-width="1.00"/>
<rect x="391.95" y="12.60" width="13.50" height="7.40" fill="#c2ced6" stroke="#000" stroke-width="1.20"/>
<line x1="391.95" y1="16.30" x2="405.45" y2="16.30" stroke="#000" stroke-width="1.00"/>
<text transform="translate(408.50 18.70) rotate(0.03) scale(1.061 1)" font-size="6.50" text-anchor="start" fill="#000" stroke="#000" stroke-width="0.17">Non−resp.</text>
<line x1="463.00" y1="9.10" x2="463.00" y2="23.50" stroke="#000" stroke-width="1.00"/>
<line x1="461.20" y1="9.10" x2="464.80" y2="9.10" stroke="#000" stroke-width="1.00"/>
<line x1="461.20" y1="23.50" x2="464.80" y2="23.50" stroke="#000" stroke-width="1.00"/>
<rect x="456.25" y="12.60" width="13.50" height="7.40" fill="#3ffb08" stroke="#000" stroke-width="1.20"/>
<line x1="456.25" y1="16.30" x2="469.75" y2="16.30" stroke="#000" stroke-width="1.00"/>
<text transform="translate(472.30 18.70) rotate(0.03) scale(1.07 1)" font-size="6.50" text-anchor="start" fill="#000" stroke="#000" stroke-width="0.17">Responder</text>
<rect x="384.10" y="29.60" width="128.80" height="112.90" fill="none" stroke="#000" stroke-width="1.20"/>
<line x1="380.90" y1="137.50" x2="384.10" y2="137.50" stroke="#000" stroke-width="1.00"/>
<text transform="translate(378.10 140.25) rotate(0.03) scale(1.23 1)" font-size="6.50" text-anchor="end" fill="#000" stroke="#000" stroke-width="0.17">0</text>
<line x1="380.90" y1="113.06" x2="384.10" y2="113.06" stroke="#000" stroke-width="1.00"/>
<text transform="translate(378.10 115.81) rotate(0.03) scale(1.23 1)" font-size="6.50" text-anchor="end" fill="#000" stroke="#000" stroke-width="0.17">25</text>
<line x1="380.90" y1="88.62" x2="384.10" y2="88.62" stroke="#000" stroke-width="1.00"/>
<text transform="translate(378.10 91.38) rotate(0.03) scale(1.23 1)" font-size="6.50" text-anchor="end" fill="#000" stroke="#000" stroke-width="0.17">50</text>
<line x1="380.90" y1="64.19" x2="384.10" y2="64.19" stroke="#000" stroke-width="1.00"/>
<text transform="translate(378.10 66.94) rotate(0.03) scale(1.23 1)" font-size="6.50" text-anchor="end" fill="#000" stroke="#000" stroke-width="0.17">75</text>
<line x1="380.90" y1="39.75" x2="384.10" y2="39.75" stroke="#000" stroke-width="1.00"/>
<text transform="translate(378.10 42.50) rotate(0.03) scale(1.23 1)" font-size="6.50" text-anchor="end" fill="#000" stroke="#000" stroke-width="0.17">100</text>
<text transform="translate(359.30 86.20) rotate(-89.97) scale(0.72 1)" font-size="8.70" text-anchor="middle" fill="#000" stroke="#000" stroke-width="0.40">Percentage</text>
<line x1="402.50" y1="142.50" x2="402.50" y2="145.70" stroke="#000" stroke-width="1.00"/>
<text transform="translate(406.55 152.05) rotate(-45) scale(1.09 1)" font-size="7.00" text-anchor="end" fill="#000" stroke="#000" stroke-width="0.20">FoxP3<tspan dy="-2.80" font-size="5.95">−</tspan><tspan dy="2.80" font-size="7.00">&#8203;</tspan> CD25<tspan dy="-2.80" font-size="5.95">−</tspan><tspan dy="2.80" font-size="7.00">&#8203;</tspan></text>
<line x1="433.20" y1="142.50" x2="433.20" y2="145.70" stroke="#000" stroke-width="1.00"/>
<text transform="translate(439.35 152.05) rotate(-45) scale(1.09 1)" font-size="7.00" text-anchor="end" fill="#000" stroke="#000" stroke-width="0.20">FoxP3<tspan dy="-2.80" font-size="5.95">−</tspan><tspan dy="2.80" font-size="7.00">&#8203;</tspan> CD25<tspan dy="-2.80" font-size="5.95">+</tspan><tspan dy="2.80" font-size="7.00">&#8203;</tspan></text>
<line x1="464.00" y1="142.50" x2="464.00" y2="145.70" stroke="#000" stroke-width="1.00"/>
<text transform="translate(467.45 152.05) rotate(-45) scale(1.09 1)" font-size="7.00" text-anchor="end" fill="#000" stroke="#000" stroke-width="0.20">FoxP3<tspan dy="-2.80" font-size="5.95">+</tspan><tspan dy="2.80" font-size="7.00">&#8203;</tspan> CD25<tspan dy="-2.80" font-size="5.95">−</tspan><tspan dy="2.80" font-size="7.00">&#8203;</tspan></text>
<line x1="494.80" y1="142.50" x2="494.80" y2="145.70" stroke="#000" stroke-width="1.00"/>
<text transform="translate(500.85 152.05) rotate(-45) scale(1.09 1)" font-size="7.00" text-anchor="end" fill="#000" stroke="#000" stroke-width="0.20">FoxP3<tspan dy="-2.80" font-size="5.95">+</tspan><tspan dy="2.80" font-size="7.00">&#8203;</tspan> CD25<tspan dy="-2.80" font-size="5.95">+</tspan><tspan dy="2.80" font-size="7.00">&#8203;</tspan></text>
<line x1="397.85" y1="58.40" x2="397.85" y2="73.65" stroke="#000" stroke-width="1.30"/>
<line x1="397.85" y1="95.70" x2="397.85" y2="121.25" stroke="#000" stroke-width="1.30"/>
<line x1="396.15" y1="58.40" x2="399.55" y2="58.40" stroke="#000" stroke-width="1.00"/>
<line x1="396.15" y1="121.25" x2="399.55" y2="121.25" stroke="#000" stroke-width="1.00"/>
<rect x="394.90" y="73.65" width="5.90" height="22.05" fill="#c2ced6" stroke="#000" stroke-width="1.10"/>
<line x1="394.90" y1="81.90" x2="400.80" y2="81.90" stroke="#000" stroke-width="1.30"/>
<line x1="407.15" y1="61.50" x2="407.15" y2="73.65" stroke="#000" stroke-width="1.30"/>
<line x1="407.15" y1="90.05" x2="407.15" y2="114.40" stroke="#000" stroke-width="1.30"/>
<line x1="405.45" y1="61.50" x2="408.85" y2="61.50" stroke="#000" stroke-width="1.00"/>
<line x1="405.45" y1="114.40" x2="408.85" y2="114.40" stroke="#000" stroke-width="1.00"/>
<rect x="404.20" y="73.65" width="5.90" height="16.40" fill="#3ffb08" stroke="#000" stroke-width="1.10"/>
<line x1="404.20" y1="79.40" x2="410.10" y2="79.40" stroke="#000" stroke-width="1.30"/>
<line x1="428.55" y1="129.80" x2="428.55" y2="130.85" stroke="#000" stroke-width="1.30"/>
<line x1="428.55" y1="134.45" x2="428.55" y2="135.50" stroke="#000" stroke-width="1.30"/>
<line x1="426.85" y1="129.80" x2="430.25" y2="129.80" stroke="#000" stroke-width="1.00"/>
<line x1="426.85" y1="135.50" x2="430.25" y2="135.50" stroke="#000" stroke-width="1.00"/>
<rect x="425.60" y="130.85" width="5.90" height="3.60" fill="#c2ced6" stroke="#000" stroke-width="1.10"/>
<line x1="425.60" y1="132.60" x2="431.50" y2="132.60" stroke="#000" stroke-width="1.30"/>
<line x1="437.85" y1="114.00" x2="437.85" y2="124.95" stroke="#000" stroke-width="1.30"/>
<line x1="437.85" y1="132.95" x2="437.85" y2="136.25" stroke="#000" stroke-width="1.30"/>
<line x1="436.15" y1="114.00" x2="439.55" y2="114.00" stroke="#000" stroke-width="1.00"/>
<line x1="436.15" y1="136.25" x2="439.55" y2="136.25" stroke="#000" stroke-width="1.00"/>
<rect x="434.90" y="124.95" width="5.90" height="8.00" fill="#3ffb08" stroke="#000" stroke-width="1.10"/>
<line x1="434.90" y1="129.40" x2="440.80" y2="129.40" stroke="#000" stroke-width="1.30"/>
<line x1="459.35" y1="121.60" x2="459.35" y2="123.45" stroke="#000" stroke-width="1.30"/>
<line x1="459.35" y1="130.70" x2="459.35" y2="134.00" stroke="#000" stroke-width="1.30"/>
<line x1="457.65" y1="121.60" x2="461.05" y2="121.60" stroke="#000" stroke-width="1.00"/>
<line x1="457.65" y1="134.00" x2="461.05" y2="134.00" stroke="#000" stroke-width="1.00"/>
<rect x="456.40" y="123.45" width="5.90" height="7.25" fill="#c2ced6" stroke="#000" stroke-width="1.10"/>
<line x1="456.40" y1="125.90" x2="462.30" y2="125.90" stroke="#000" stroke-width="1.30"/>
<line x1="468.65" y1="111.00" x2="468.65" y2="123.65" stroke="#000" stroke-width="1.30"/>
<line x1="468.65" y1="132.95" x2="468.65" y2="135.25" stroke="#000" stroke-width="1.30"/>
<line x1="466.95" y1="111.00" x2="470.35" y2="111.00" stroke="#000" stroke-width="1.00"/>
<line x1="466.95" y1="135.25" x2="470.35" y2="135.25" stroke="#000" stroke-width="1.00"/>
<rect x="465.70" y="123.65" width="5.90" height="9.30" fill="#3ffb08" stroke="#000" stroke-width="1.10"/>
<line x1="465.70" y1="129.60" x2="471.60" y2="129.60" stroke="#000" stroke-width="1.30"/>
<line x1="490.15" y1="87.80" x2="490.15" y2="106.80" stroke="#000" stroke-width="1.30"/>
<line x1="490.15" y1="128.55" x2="490.15" y2="129.60" stroke="#000" stroke-width="1.30"/>
<line x1="488.45" y1="87.80" x2="491.85" y2="87.80" stroke="#000" stroke-width="1.00"/>
<line x1="488.45" y1="129.60" x2="491.85" y2="129.60" stroke="#000" stroke-width="1.00"/>
<rect x="487.20" y="106.80" width="5.90" height="21.75" fill="#c2ced6" stroke="#000" stroke-width="1.10"/>
<line x1="487.20" y1="113.75" x2="493.10" y2="113.75" stroke="#000" stroke-width="1.30"/>
<line x1="499.45" y1="94.40" x2="499.45" y2="108.65" stroke="#000" stroke-width="1.30"/>
<line x1="499.45" y1="122.35" x2="499.45" y2="132.25" stroke="#000" stroke-width="1.30"/>
<line x1="497.75" y1="94.40" x2="501.15" y2="94.40" stroke="#000" stroke-width="1.00"/>
<line x1="497.75" y1="132.25" x2="501.15" y2="132.25" stroke="#000" stroke-width="1.00"/>
<rect x="496.50" y="108.65" width="5.90" height="13.70" fill="#3ffb08" stroke="#000" stroke-width="1.10"/>
<line x1="496.50" y1="115.40" x2="502.40" y2="115.40" stroke="#000" stroke-width="1.30"/>
<text transform="translate(9.00 208.50) rotate(0.03) scale(1.12 1)" font-size="10.30" text-anchor="start" fill="#000" font-weight="bold" stroke="#000" stroke-width="0.20">C</text>
<line x1="213.80" y1="202.30" x2="213.80" y2="216.70" stroke="#000" stroke-width="1.00"/>
<line x1="212.00" y1="202.30" x2="215.60" y2="202.30" stroke="#000" stroke-width="1.00"/>
<line x1="212.00" y1="216.70" x2="215.60" y2="216.70" stroke="#000" stroke-width="1.00"/>
<rect x="207.05" y="205.80" width="13.50" height="7.40" fill="#c2ced6" stroke="#000" stroke-width="1.20"/>
<line x1="207.05" y1="209.50" x2="220.55" y2="209.50" stroke="#000" stroke-width="1.00"/>
<text transform="translate(223.50 212.00) rotate(0.03) scale(1.067 1)" font-size="6.50" text-anchor="start" fill="#000" stroke="#000" stroke-width="0.17">Non−responder</text>
<line x1="302.00" y1="202.30" x2="302.00" y2="216.70" stroke="#000" stroke-width="1.00"/>
<line x1="300.20" y1="202.30" x2="303.80" y2="202.30" stroke="#000" stroke-width="1.00"/>
<line x1="300.20" y1="216.70" x2="303.80" y2="216.70" stroke="#000" stroke-width="1.00"/>
<rect x="295.25" y="205.80" width="13.50" height="7.40" fill="#3ffb08" stroke="#000" stroke-width="1.20"/>
<line x1="295.25" y1="209.50" x2="308.75" y2="209.50" stroke="#000" stroke-width="1.00"/>
<text transform="translate(311.80 212.00) rotate(0.03) scale(1.06 1)" font-size="6.50" text-anchor="start" fill="#000" stroke="#000" stroke-width="0.17">Responder</text>
<rect x="42.50" y="224.20" width="93.60" height="15.40" fill="#fff" stroke="#000" stroke-width="1.20"/>
<rect x="42.50" y="239.60" width="93.60" height="76.00" fill="none" stroke="#000" stroke-width="1.20"/>
<text transform="translate(89.10 233.90) rotate(0.03) scale(1.219 1)" font-size="6.50" text-anchor="middle" fill="#000" stroke="#000" stroke-width="0.17">ICOS+</text>
<line x1="39.30" y1="312.90" x2="42.50" y2="312.90" stroke="#000" stroke-width="1.00"/>
<text transform="translate(36.50 315.40) rotate(0.03) scale(1.23 1)" font-size="6.50" text-anchor="end" fill="#000" stroke="#000" stroke-width="0.17">0</text>
<line x1="39.30" y1="297.00" x2="42.50" y2="297.00" stroke="#000" stroke-width="1.00"/>
<text transform="translate(36.50 299.50) rotate(0.03) scale(1.23 1)" font-size="6.50" text-anchor="end" fill="#000" stroke="#000" stroke-width="0.17">25</text>
<line x1="39.30" y1="281.20" x2="42.50" y2="281.20" stroke="#000" stroke-width="1.00"/>
<text transform="translate(36.50 283.70) rotate(0.03) scale(1.23 1)" font-size="6.50" text-anchor="end" fill="#000" stroke="#000" stroke-width="0.17">50</text>
<line x1="39.30" y1="265.40" x2="42.50" y2="265.40" stroke="#000" stroke-width="1.00"/>
<text transform="translate(36.50 267.90) rotate(0.03) scale(1.23 1)" font-size="6.50" text-anchor="end" fill="#000" stroke="#000" stroke-width="0.17">75</text>
<line x1="39.30" y1="249.50" x2="42.50" y2="249.50" stroke="#000" stroke-width="1.00"/>
<text transform="translate(36.50 252.00) rotate(0.03) scale(1.23 1)" font-size="6.50" text-anchor="end" fill="#000" stroke="#000" stroke-width="0.17">100</text>
<text transform="translate(17.80 277.80) rotate(-89.97) scale(0.72 1)" font-size="8.70" text-anchor="middle" fill="#000" stroke="#000" stroke-width="0.40">Frequency</text>
<line x1="68.05" y1="315.60" x2="68.05" y2="318.80" stroke="#000" stroke-width="1.00"/>
<text transform="translate(72.00 325.55) rotate(-45) scale(1.09 1)" font-size="7.00" text-anchor="end" fill="#000" stroke="#000" stroke-width="0.20">FoxP3<tspan dy="-2.80" font-size="5.95">+</tspan><tspan dy="2.80" font-size="7.00">&#8203;</tspan> CD25<tspan dy="-2.80" font-size="5.95">−</tspan><tspan dy="2.80" font-size="7.00">&#8203;</tspan></text>
<line x1="61.10" y1="264.40" x2="61.10" y2="280.55" stroke="#000" stroke-width="1.30"/>
<line x1="61.10" y1="308.35" x2="61.10" y2="312.25" stroke="#000" stroke-width="1.30"/>
<line x1="59.40" y1="264.40" x2="62.80" y2="264.40" stroke="#000" stroke-width="1.00"/>
<line x1="59.40" y1="312.25" x2="62.80" y2="312.25" stroke="#000" stroke-width="1.00"/>
<rect x="56.80" y="280.55" width="8.60" height="27.80" fill="#c2ced6" stroke="#000" stroke-width="1.10"/>
<line x1="56.80" y1="288.50" x2="65.40" y2="288.50" stroke="#000" stroke-width="1.30"/>
<line x1="75.00" y1="251.60" x2="75.00" y2="262.45" stroke="#000" stroke-width="1.30"/>
<line x1="75.00" y1="276.35" x2="75.00" y2="285.40" stroke="#000" stroke-width="1.30"/>
<line x1="73.30" y1="251.60" x2="76.70" y2="251.60" stroke="#000" stroke-width="1.00"/>
<line x1="73.30" y1="285.40" x2="76.70" y2="285.40" stroke="#000" stroke-width="1.00"/>
<rect x="70.70" y="262.45" width="8.60" height="13.90" fill="#3ffb08" stroke="#000" stroke-width="1.10"/>
<line x1="70.70" y1="267.90" x2="79.30" y2="267.90" stroke="#000" stroke-width="1.30"/>
<text transform="translate(68.05 248.10) rotate(0.03) scale(1.2 1)" font-size="6.00" text-anchor="middle" fill="#000" font-weight="bold">***</text>
<line x1="110.40" y1="315.60" x2="110.40" y2="318.80" stroke="#000" stroke-width="1.00"/>
<text transform="translate(113.75 325.55) rotate(-45) scale(1.09 1)" font-size="7.00" text-anchor="end" fill="#000" stroke="#000" stroke-width="0.20">FoxP3<tspan dy="-2.80" font-size="5.95">+</tspan><tspan dy="2.80" font-size="7.00">&#8203;</tspan> CD25<tspan dy="-2.80" font-size="5.95">+</tspan><tspan dy="2.80" font-size="7.00">&#8203;</tspan></text>
<line x1="103.45" y1="254.75" x2="103.45" y2="266.55" stroke="#000" stroke-width="1.30"/>
<line x1="103.45" y1="300.05" x2="103.45" y2="310.75" stroke="#000" stroke-width="1.30"/>
<line x1="101.75" y1="254.75" x2="105.15" y2="254.75" stroke="#000" stroke-width="1.00"/>
<line x1="101.75" y1="310.75" x2="105.15" y2="310.75" stroke="#000" stroke-width="1.00"/>
<rect x="99.15" y="266.55" width="8.60" height="33.50" fill="#c2ced6" stroke="#000" stroke-width="1.10"/>
<line x1="99.15" y1="272.90" x2="107.75" y2="272.90" stroke="#000" stroke-width="1.30"/>
<line x1="117.35" y1="249.75" x2="117.35" y2="256.80" stroke="#000" stroke-width="1.30"/>
<line x1="117.35" y1="268.35" x2="117.35" y2="274.75" stroke="#000" stroke-width="1.30"/>
<line x1="115.65" y1="249.75" x2="119.05" y2="249.75" stroke="#000" stroke-width="1.00"/>
<line x1="115.65" y1="274.75" x2="119.05" y2="274.75" stroke="#000" stroke-width="1.00"/>
<rect x="113.05" y="256.80" width="8.60" height="11.55" fill="#3ffb08" stroke="#000" stroke-width="1.10"/>
<line x1="113.05" y1="261.40" x2="121.65" y2="261.40" stroke="#000" stroke-width="1.30"/>
<text transform="translate(110.40 248.10) rotate(0.03) scale(1.2 1)" font-size="6.00" text-anchor="middle" fill="#000" font-weight="bold">*</text>
<rect x="177.50" y="224.20" width="93.60" height="15.40" fill="#fff" stroke="#000" stroke-width="1.20"/>
<rect x="177.50" y="239.60" width="93.60" height="76.00" fill="none" stroke="#000" stroke-width="1.20"/>
<text transform="translate(224.10 233.90) rotate(0.03) scale(1.118 1)" font-size="6.50" text-anchor="middle" fill="#000" stroke="#000" stroke-width="0.17">Helios</text>
<line x1="174.30" y1="312.90" x2="177.50" y2="312.90" stroke="#000" stroke-width="1.00"/>
<text transform="translate(171.50 315.40) rotate(0.03) scale(1.23 1)" font-size="6.50" text-anchor="end" fill="#000" stroke="#000" stroke-width="0.17">0</text>
<line x1="174.30" y1="289.50" x2="177.50" y2="289.50" stroke="#000" stroke-width="1.00"/>
<text transform="translate(171.50 292.00) rotate(0.03) scale(1.186 1)" font-size="6.50" text-anchor="end" fill="#000" stroke="#000" stroke-width="0.17">.5K</text>
<line x1="174.30" y1="266.25" x2="177.50" y2="266.25" stroke="#000" stroke-width="1.00"/>
<text transform="translate(171.50 268.75) rotate(0.03) scale(1.198 1)" font-size="6.50" text-anchor="end" fill="#000" stroke="#000" stroke-width="0.17">1.0K</text>
<line x1="174.30" y1="243.00" x2="177.50" y2="243.00" stroke="#000" stroke-width="1.00"/>
<text transform="translate(171.50 245.50) rotate(0.03) scale(1.198 1)" font-size="6.50" text-anchor="end" fill="#000" stroke="#000" stroke-width="0.17">1.5K</text>
<text transform="translate(150.00 277.80) rotate(-89.97) scale(0.72 1)" font-size="8.70" text-anchor="middle" fill="#000" stroke="#000" stroke-width="0.40">MFI</text>
<line x1="203.05" y1="315.60" x2="203.05" y2="318.80" stroke="#000" stroke-width="1.00"/>
<text transform="translate(207.00 325.55) rotate(-45) scale(1.09 1)" font-size="7.00" text-anchor="end" fill="#000" stroke="#000" stroke-width="0.20">FoxP3<tspan dy="-2.80" font-size="5.95">+</tspan><tspan dy="2.80" font-size="7.00">&#8203;</tspan> CD25<tspan dy="-2.80" font-size="5.95">−</tspan><tspan dy="2.80" font-size="7.00">&#8203;</tspan></text>
<line x1="196.10" y1="251.90" x2="196.10" y2="264.95" stroke="#000" stroke-width="1.30"/>
<line x1="196.10" y1="273.95" x2="196.10" y2="283.50" stroke="#000" stroke-width="1.30"/>
<line x1="194.40" y1="251.90" x2="197.80" y2="251.90" stroke="#000" stroke-width="1.00"/>
<line x1="194.40" y1="283.50" x2="197.80" y2="283.50" stroke="#000" stroke-width="1.00"/>
<rect x="191.80" y="264.95" width="8.60" height="9.00" fill="#c2ced6" stroke="#000" stroke-width="1.10"/>
<line x1="191.80" y1="269.40" x2="200.40" y2="269.40" stroke="#000" stroke-width="1.30"/>
<line x1="210.00" y1="266.00" x2="210.00" y2="273.65" stroke="#000" stroke-width="1.30"/>
<line x1="210.00" y1="283.20" x2="210.00" y2="297.60" stroke="#000" stroke-width="1.30"/>
<line x1="208.30" y1="266.00" x2="211.70" y2="266.00" stroke="#000" stroke-width="1.00"/>
<line x1="208.30" y1="297.60" x2="211.70" y2="297.60" stroke="#000" stroke-width="1.00"/>
<rect x="205.70" y="273.65" width="8.60" height="9.55" fill="#3ffb08" stroke="#000" stroke-width="1.10"/>
<line x1="205.70" y1="277.90" x2="214.30" y2="277.90" stroke="#000" stroke-width="1.30"/>
<text transform="translate(203.05 248.10) rotate(0.03) scale(1.2 1)" font-size="6.00" text-anchor="middle" fill="#000" font-weight="bold">*</text>
<line x1="245.40" y1="315.60" x2="245.40" y2="318.80" stroke="#000" stroke-width="1.00"/>
<text transform="translate(248.75 325.55) rotate(-45) scale(1.09 1)" font-size="7.00" text-anchor="end" fill="#000" stroke="#000" stroke-width="0.20">FoxP3<tspan dy="-2.80" font-size="5.95">+</tspan><tspan dy="2.80" font-size="7.00">&#8203;</tspan> CD25<tspan dy="-2.80" font-size="5.95">+</tspan><tspan dy="2.80" font-size="7.00">&#8203;</tspan></text>
<line x1="238.45" y1="245.50" x2="238.45" y2="259.05" stroke="#000" stroke-width="1.30"/>
<line x1="238.45" y1="269.15" x2="238.45" y2="274.10" stroke="#000" stroke-width="1.30"/>
<line x1="236.75" y1="245.50" x2="240.15" y2="245.50" stroke="#000" stroke-width="1.00"/>
<line x1="236.75" y1="274.10" x2="240.15" y2="274.10" stroke="#000" stroke-width="1.00"/>
<rect x="234.15" y="259.05" width="8.60" height="10.10" fill="#c2ced6" stroke="#000" stroke-width="1.10"/>
<line x1="234.15" y1="268.30" x2="242.75" y2="268.30" stroke="#000" stroke-width="1.30"/>
<line x1="252.35" y1="250.60" x2="252.35" y2="266.80" stroke="#000" stroke-width="1.30"/>
<line x1="252.35" y1="279.20" x2="252.35" y2="297.00" stroke="#000" stroke-width="1.30"/>
<line x1="250.65" y1="250.60" x2="254.05" y2="250.60" stroke="#000" stroke-width="1.00"/>
<line x1="250.65" y1="297.00" x2="254.05" y2="297.00" stroke="#000" stroke-width="1.00"/>
<rect x="248.05" y="266.80" width="8.60" height="12.40" fill="#3ffb08" stroke="#000" stroke-width="1.10"/>
<line x1="248.05" y1="273.10" x2="256.65" y2="273.10" stroke="#000" stroke-width="1.30"/>
<text transform="translate(245.40 248.10) rotate(0.03) scale(1.2 1)" font-size="6.00" text-anchor="middle" fill="#000" font-weight="bold">*</text>
<rect x="295.50" y="224.20" width="93.60" height="15.40" fill="#fff" stroke="#000" stroke-width="1.20"/>
<rect x="295.50" y="239.60" width="93.60" height="76.00" fill="none" stroke="#000" stroke-width="1.20"/>
<text transform="translate(342.30 233.90) rotate(0.03) scale(1.12 1)" font-size="6.50" text-anchor="middle" fill="#000" stroke="#000" stroke-width="0.17">Aiolos</text>
<line x1="292.30" y1="312.90" x2="295.50" y2="312.90" stroke="#000" stroke-width="1.00"/>
<text transform="translate(289.50 315.40) rotate(0.03) scale(1.23 1)" font-size="6.50" text-anchor="end" fill="#000" stroke="#000" stroke-width="0.17">0</text>
<line x1="292.30" y1="289.50" x2="295.50" y2="289.50" stroke="#000" stroke-width="1.00"/>
<text transform="translate(289.50 292.00) rotate(0.03) scale(1.175 1)" font-size="6.50" text-anchor="end" fill="#000" stroke="#000" stroke-width="0.17">2K</text>
<line x1="292.30" y1="266.25" x2="295.50" y2="266.25" stroke="#000" stroke-width="1.00"/>
<text transform="translate(289.50 268.75) rotate(0.03) scale(1.175 1)" font-size="6.50" text-anchor="end" fill="#000" stroke="#000" stroke-width="0.17">4K</text>
<line x1="292.30" y1="243.00" x2="295.50" y2="243.00" stroke="#000" stroke-width="1.00"/>
<text transform="translate(289.50 245.50) rotate(0.03) scale(1.175 1)" font-size="6.50" text-anchor="end" fill="#000" stroke="#000" stroke-width="0.17">6K</text>
<line x1="321.05" y1="315.60" x2="321.05" y2="318.80" stroke="#000" stroke-width="1.00"/>
<text transform="translate(325.00 325.55) rotate(-45) scale(1.09 1)" font-size="7.00" text-anchor="end" fill="#000" stroke="#000" stroke-width="0.20">FoxP3<tspan dy="-2.80" font-size="5.95">+</tspan><tspan dy="2.80" font-size="7.00">&#8203;</tspan> CD25<tspan dy="-2.80" font-size="5.95">−</tspan><tspan dy="2.80" font-size="7.00">&#8203;</tspan></text>
<line x1="314.10" y1="292.50" x2="314.10" y2="295.95" stroke="#000" stroke-width="1.30"/>
<line x1="314.10" y1="299.20" x2="314.10" y2="302.25" stroke="#000" stroke-width="1.30"/>
<line x1="312.40" y1="292.50" x2="315.80" y2="292.50" stroke="#000" stroke-width="1.00"/>
<line x1="312.40" y1="302.25" x2="315.80" y2="302.25" stroke="#000" stroke-width="1.00"/>
<rect x="309.80" y="295.95" width="8.60" height="3.25" fill="#c2ced6" stroke="#000" stroke-width="1.10"/>
<line x1="309.80" y1="297.50" x2="318.40" y2="297.50" stroke="#000" stroke-width="1.30"/>
<line x1="328.00" y1="253.50" x2="328.00" y2="262.80" stroke="#000" stroke-width="1.30"/>
<line x1="328.00" y1="281.05" x2="328.00" y2="291.25" stroke="#000" stroke-width="1.30"/>
<line x1="326.30" y1="253.50" x2="329.70" y2="253.50" stroke="#000" stroke-width="1.00"/>
<line x1="326.30" y1="291.25" x2="329.70" y2="291.25" stroke="#000" stroke-width="1.00"/>
<rect x="323.70" y="262.80" width="8.60" height="18.25" fill="#3ffb08" stroke="#000" stroke-width="1.10"/>
<line x1="323.70" y1="272.25" x2="332.30" y2="272.25" stroke="#000" stroke-width="1.30"/>
<text transform="translate(321.05 248.10) rotate(0.03) scale(1.2 1)" font-size="6.00" text-anchor="middle" fill="#000" font-weight="bold">*</text>
<line x1="363.40" y1="315.60" x2="363.40" y2="318.80" stroke="#000" stroke-width="1.00"/>
<text transform="translate(366.75 325.55) rotate(-45) scale(1.09 1)" font-size="7.00" text-anchor="end" fill="#000" stroke="#000" stroke-width="0.20">FoxP3<tspan dy="-2.80" font-size="5.95">+</tspan><tspan dy="2.80" font-size="7.00">&#8203;</tspan> CD25<tspan dy="-2.80" font-size="5.95">+</tspan><tspan dy="2.80" font-size="7.00">&#8203;</tspan></text>
<line x1="356.45" y1="286.40" x2="356.45" y2="293.45" stroke="#000" stroke-width="1.30"/>
<line x1="356.45" y1="297.95" x2="356.45" y2="303.50" stroke="#000" stroke-width="1.30"/>
<line x1="354.75" y1="286.40" x2="358.15" y2="286.40" stroke="#000" stroke-width="1.00"/>
<line x1="354.75" y1="303.50" x2="358.15" y2="303.50" stroke="#000" stroke-width="1.00"/>
<rect x="352.15" y="293.45" width="8.60" height="4.50" fill="#c2ced6" stroke="#000" stroke-width="1.10"/>
<line x1="352.15" y1="294.30" x2="360.75" y2="294.30" stroke="#000" stroke-width="1.30"/>
<line x1="370.35" y1="247.60" x2="370.35" y2="262.15" stroke="#000" stroke-width="1.30"/>
<line x1="370.35" y1="282.95" x2="370.35" y2="290.75" stroke="#000" stroke-width="1.30"/>
<line x1="368.65" y1="247.60" x2="372.05" y2="247.60" stroke="#000" stroke-width="1.00"/>
<line x1="368.65" y1="290.75" x2="372.05" y2="290.75" stroke="#000" stroke-width="1.00"/>
<rect x="366.05" y="262.15" width="8.60" height="20.80" fill="#3ffb08" stroke="#000" stroke-width="1.10"/>
<line x1="366.05" y1="275.60" x2="374.65" y2="275.60" stroke="#000" stroke-width="1.30"/>
<text transform="translate(363.40 248.10) rotate(0.03) scale(1.2 1)" font-size="6.00" text-anchor="middle" fill="#000" font-weight="bold">*</text>
<rect x="419.90" y="224.20" width="93.60" height="15.40" fill="#fff" stroke="#000" stroke-width="1.20"/>
<rect x="419.90" y="239.60" width="93.60" height="76.00" fill="none" stroke="#000" stroke-width="1.20"/>
<text transform="translate(466.60 233.90) rotate(0.03) scale(1.144 1)" font-size="6.50" text-anchor="middle" fill="#000" stroke="#000" stroke-width="0.17">CXCR5</text>
<line x1="416.70" y1="312.90" x2="419.90" y2="312.90" stroke="#000" stroke-width="1.00"/>
<text transform="translate(413.90 315.40) rotate(0.03) scale(1.23 1)" font-size="6.50" text-anchor="end" fill="#000" stroke="#000" stroke-width="0.17">0</text>
<line x1="416.70" y1="289.50" x2="419.90" y2="289.50" stroke="#000" stroke-width="1.00"/>
<text transform="translate(413.90 292.00) rotate(0.03) scale(1.186 1)" font-size="6.50" text-anchor="end" fill="#000" stroke="#000" stroke-width="0.17">.5K</text>
<line x1="416.70" y1="266.25" x2="419.90" y2="266.25" stroke="#000" stroke-width="1.00"/>
<text transform="translate(413.90 268.75) rotate(0.03) scale(1.175 1)" font-size="6.50" text-anchor="end" fill="#000" stroke="#000" stroke-width="0.17">1K</text>
<line x1="416.70" y1="243.00" x2="419.90" y2="243.00" stroke="#000" stroke-width="1.00"/>
<text transform="translate(413.90 245.50) rotate(0.03) scale(1.198 1)" font-size="6.50" text-anchor="end" fill="#000" stroke="#000" stroke-width="0.17">1.5K</text>
<line x1="445.45" y1="315.60" x2="445.45" y2="318.80" stroke="#000" stroke-width="1.00"/>
<text transform="translate(449.40 325.55) rotate(-45) scale(1.09 1)" font-size="7.00" text-anchor="end" fill="#000" stroke="#000" stroke-width="0.20">FoxP3<tspan dy="-2.80" font-size="5.95">+</tspan><tspan dy="2.80" font-size="7.00">&#8203;</tspan> CD25<tspan dy="-2.80" font-size="5.95">−</tspan><tspan dy="2.80" font-size="7.00">&#8203;</tspan></text>
<line x1="438.50" y1="286.90" x2="438.50" y2="290.95" stroke="#000" stroke-width="1.30"/>
<line x1="438.50" y1="298.20" x2="438.50" y2="300.40" stroke="#000" stroke-width="1.30"/>
<line x1="436.80" y1="286.90" x2="440.20" y2="286.90" stroke="#000" stroke-width="1.00"/>
<line x1="436.80" y1="300.40" x2="440.20" y2="300.40" stroke="#000" stroke-width="1.00"/>
<rect x="434.20" y="290.95" width="8.60" height="7.25" fill="#c2ced6" stroke="#000" stroke-width="1.10"/>
<line x1="434.20" y1="292.10" x2="442.80" y2="292.10" stroke="#000" stroke-width="1.30"/>
<line x1="452.40" y1="261.40" x2="452.40" y2="264.65" stroke="#000" stroke-width="1.30"/>
<line x1="452.40" y1="273.95" x2="452.40" y2="281.60" stroke="#000" stroke-width="1.30"/>
<line x1="450.70" y1="261.40" x2="454.10" y2="261.40" stroke="#000" stroke-width="1.00"/>
<line x1="450.70" y1="281.60" x2="454.10" y2="281.60" stroke="#000" stroke-width="1.00"/>
<rect x="448.10" y="264.65" width="8.60" height="9.30" fill="#3ffb08" stroke="#000" stroke-width="1.10"/>
<line x1="448.10" y1="266.60" x2="456.70" y2="266.60" stroke="#000" stroke-width="1.30"/>
<text transform="translate(445.45 248.10) rotate(0.03) scale(1.2 1)" font-size="6.00" text-anchor="middle" fill="#000" font-weight="bold">*</text>
<line x1="487.80" y1="315.60" x2="487.80" y2="318.80" stroke="#000" stroke-width="1.00"/>
<text transform="translate(491.15 325.55) rotate(-45) scale(1.09 1)" font-size="7.00" text-anchor="end" fill="#000" stroke="#000" stroke-width="0.20">FoxP3<tspan dy="-2.80" font-size="5.95">+</tspan><tspan dy="2.80" font-size="7.00">&#8203;</tspan> CD25<tspan dy="-2.80" font-size="5.95">+</tspan><tspan dy="2.80" font-size="7.00">&#8203;</tspan></text>
<line x1="480.85" y1="282.60" x2="480.85" y2="285.95" stroke="#000" stroke-width="1.30"/>
<line x1="480.85" y1="296.35" x2="480.85" y2="297.60" stroke="#000" stroke-width="1.30"/>
<line x1="479.15" y1="282.60" x2="482.55" y2="282.60" stroke="#000" stroke-width="1.00"/>
<line x1="479.15" y1="297.60" x2="482.55" y2="297.60" stroke="#000" stroke-width="1.00"/>
<rect x="476.55" y="285.95" width="8.60" height="10.40" fill="#c2ced6" stroke="#000" stroke-width="1.10"/>
<line x1="476.55" y1="292.50" x2="485.15" y2="292.50" stroke="#000" stroke-width="1.30"/>
<line x1="494.75" y1="270.60" x2="494.75" y2="272.45" stroke="#000" stroke-width="1.30"/>
<line x1="494.75" y1="277.05" x2="494.75" y2="281.60" stroke="#000" stroke-width="1.30"/>
<line x1="493.05" y1="270.60" x2="496.45" y2="270.60" stroke="#000" stroke-width="1.00"/>
<line x1="493.05" y1="281.60" x2="496.45" y2="281.60" stroke="#000" stroke-width="1.00"/>
<rect x="490.45" y="272.45" width="8.60" height="4.60" fill="#3ffb08" stroke="#000" stroke-width="1.10"/>
<line x1="490.45" y1="274.10" x2="499.05" y2="274.10" stroke="#000" stroke-width="1.30"/>
<text transform="translate(487.80 248.10) rotate(0.03) scale(1.2 1)" font-size="6.00" text-anchor="middle" fill="#000" font-weight="bold">*</text>
<text transform="translate(9.00 386.50) rotate(0.03) scale(1.12 1)" font-size="10.30" text-anchor="start" fill="#000" font-weight="bold" stroke="#000" stroke-width="0.20">D</text>
<path d="M155.00 414.40L167.51 426.91L155.00 439.42L142.49 426.91Z" fill="#8fd6ee"/>
<text transform="translate(155.90 429.31) rotate(0.03) scale(1.197 1)" font-size="6.70" text-anchor="middle" fill="#000" stroke="#000" stroke-width="0.12">−0.5</text>
<path d="M141.69 427.71L154.20 440.22L141.69 452.73L129.18 440.22Z" fill="#fddc80"/>
<path d="M168.31 427.71L180.82 440.22L168.31 452.73L155.80 440.22Z" fill="#fc7c50"/>
<text transform="translate(168.61 442.62) rotate(0.03) scale(1.23 1)" font-size="6.70" text-anchor="middle" fill="#000" stroke="#000" stroke-width="0.12">0.5</text>
<path d="M128.38 441.02L140.89 453.53L128.38 466.04L115.87 453.53Z" fill="#84c4ee"/>
<text transform="translate(129.28 455.93) rotate(0.03) scale(1.197 1)" font-size="6.70" text-anchor="middle" fill="#000" stroke="#000" stroke-width="0.12">−0.6</text>
<path d="M155.00 441.02L167.51 453.53L155.00 466.04L142.49 453.53Z" fill="#f0fac8"/>
<path d="M181.62 441.02L194.13 453.53L181.62 466.04L169.11 453.53Z" fill="#fdc070"/>
<path d="M115.07 454.33L127.58 466.84L115.07 479.35L102.56 466.84Z" fill="#d0f5f5"/>
<path d="M141.69 454.33L154.20 466.84L141.69 479.35L129.18 466.84Z" fill="#ee2425"/>
<text transform="translate(141.99 469.24) rotate(0.03) scale(1.23 1)" font-size="6.70" text-anchor="middle" fill="#000" stroke="#000" stroke-width="0.12">0.7</text>
<path d="M168.31 454.33L180.82 466.84L168.31 479.35L155.80 466.84Z" fill="#8fd6ee"/>
<text transform="translate(169.21 469.24) rotate(0.03) scale(1.197 1)" font-size="6.70" text-anchor="middle" fill="#000" stroke="#000" stroke-width="0.12">−0.5</text>
<path d="M194.93 454.33L207.44 466.84L194.93 479.35L182.42 466.84Z" fill="#fa5a3c"/>
<text transform="translate(195.23 469.24) rotate(0.03) scale(1.23 1)" font-size="6.70" text-anchor="middle" fill="#000" stroke="#000" stroke-width="0.12">0.6</text>
<path d="M101.76 467.64L114.27 480.15L101.76 492.66L89.25 480.15Z" fill="#fa5a3c"/>
<text transform="translate(102.06 482.55) rotate(0.03) scale(1.23 1)" font-size="6.70" text-anchor="middle" fill="#000" stroke="#000" stroke-width="0.12">0.6</text>
<path d="M128.38 467.64L140.89 480.15L128.38 492.66L115.87 480.15Z" fill="#fbe984"/>
<path d="M155.00 467.64L167.51 480.15L155.00 492.66L142.49 480.15Z" fill="#fdc070"/>
<path d="M181.62 467.64L194.13 480.15L181.62 492.66L169.11 480.15Z" fill="#e6fae4"/>
<path d="M208.24 467.64L220.75 480.15L208.24 492.66L195.73 480.15Z" fill="#fc7c50"/>
<text transform="translate(208.54 482.55) rotate(0.03) scale(1.23 1)" font-size="6.70" text-anchor="middle" fill="#000" stroke="#000" stroke-width="0.12">0.5</text>
<path d="M88.45 480.95L100.96 493.46L88.45 505.97L75.94 493.46Z" fill="#f0fac8"/>
<path d="M115.07 480.95L127.58 493.46L115.07 505.97L102.56 493.46Z" fill="#6aaaea"/>
<text transform="translate(115.97 495.86) rotate(0.03) scale(1.197 1)" font-size="6.70" text-anchor="middle" fill="#000" stroke="#000" stroke-width="0.12">−0.7</text>
<path d="M141.69 480.95L154.20 493.46L141.69 505.97L129.18 493.46Z" fill="#fbe984"/>
<path d="M168.31 480.95L180.82 493.46L168.31 505.97L155.80 493.46Z" fill="#fc7c50"/>
<text transform="translate(168.61 495.86) rotate(0.03) scale(1.23 1)" font-size="6.70" text-anchor="middle" fill="#000" stroke="#000" stroke-width="0.12">0.5</text>
<path d="M194.93 480.95L207.44 493.46L194.93 505.97L182.42 493.46Z" fill="#fdc070"/>
<path d="M221.55 480.95L234.06 493.46L221.55 505.97L209.04 493.46Z" fill="#8fd6ee"/>
<text transform="translate(222.45 495.86) rotate(0.03) scale(1.197 1)" font-size="6.70" text-anchor="middle" fill="#000" stroke="#000" stroke-width="0.12">−0.5</text>
<path d="M75.14 494.26L87.65 506.77L75.14 519.28L62.63 506.77Z" fill="#3575e7"/>
<text transform="translate(76.04 509.17) rotate(0.03) scale(1.197 1)" font-size="6.70" text-anchor="middle" fill="#000" stroke="#000" stroke-width="0.12">−0.8</text>
<path d="M101.76 494.26L114.27 506.77L101.76 519.28L89.25 506.77Z" fill="#fd9f5c"/>
<text transform="translate(102.06 509.17) rotate(0.03) scale(1.23 1)" font-size="6.70" text-anchor="middle" fill="#000" stroke="#000" stroke-width="0.12">0.4</text>
<path d="M128.38 494.26L140.89 506.77L128.38 519.28L115.87 506.77Z" fill="#d0f5f5"/>
<path d="M155.00 494.26L167.51 506.77L155.00 519.28L142.49 506.77Z" fill="#fbf9a6"/>
<path d="M181.62 494.26L194.13 506.77L181.62 519.28L169.11 506.77Z" fill="#fa5a3c"/>
<text transform="translate(181.92 509.17) rotate(0.03) scale(1.23 1)" font-size="6.70" text-anchor="middle" fill="#000" stroke="#000" stroke-width="0.12">0.6</text>
<path d="M208.24 494.26L220.75 506.77L208.24 519.28L195.73 506.77Z" fill="#fbf9a6"/>
<path d="M234.86 494.26L247.37 506.77L234.86 519.28L222.35 506.77Z" fill="#fbe984"/>
<path d="M61.83 507.57L74.34 520.08L61.83 532.59L49.32 520.08Z" fill="#589dee"/>
<text transform="translate(62.73 522.48) rotate(0.03) scale(1.197 1)" font-size="6.70" text-anchor="middle" fill="#000" stroke="#000" stroke-width="0.12">−0.7</text>
<path d="M88.45 507.57L100.96 520.08L88.45 532.59L75.94 520.08Z" fill="#ee2425"/>
<text transform="translate(88.75 522.48) rotate(0.03) scale(1.23 1)" font-size="6.70" text-anchor="middle" fill="#000" stroke="#000" stroke-width="0.12">0.7</text>
<path d="M115.07 507.57L127.58 520.08L115.07 532.59L102.56 520.08Z" fill="#fbe984"/>
<path d="M141.69 507.57L154.20 520.08L141.69 532.59L129.18 520.08Z" fill="#84c4ee"/>
<text transform="translate(142.59 522.48) rotate(0.03) scale(1.197 1)" font-size="6.70" text-anchor="middle" fill="#000" stroke="#000" stroke-width="0.12">−0.6</text>
<path d="M168.31 507.57L180.82 520.08L168.31 532.59L155.80 520.08Z" fill="#fdb86c"/>
<path d="M194.93 507.57L207.44 520.08L194.93 532.59L182.42 520.08Z" fill="#84c4ee"/>
<text transform="translate(195.83 522.48) rotate(0.03) scale(1.197 1)" font-size="6.70" text-anchor="middle" fill="#000" stroke="#000" stroke-width="0.12">−0.6</text>
<path d="M221.55 507.57L234.06 520.08L221.55 532.59L209.04 520.08Z" fill="#fdc070"/>
<path d="M248.17 507.57L260.68 520.08L248.17 532.59L235.66 520.08Z" fill="#fd9f5c"/>
<text transform="translate(248.47 522.48) rotate(0.03) scale(1.23 1)" font-size="6.70" text-anchor="middle" fill="#000" stroke="#000" stroke-width="0.12">0.4</text>
<path d="M48.52 520.88L61.03 533.39L48.52 545.90L36.01 533.39Z" fill="#fbf9a6"/>
<path d="M75.14 520.88L87.65 533.39L75.14 545.90L62.63 533.39Z" fill="#ee2425"/>
<text transform="translate(75.44 535.79) rotate(0.03) scale(1.23 1)" font-size="6.70" text-anchor="middle" fill="#000" stroke="#000" stroke-width="0.12">0.7</text>
<path d="M101.76 520.88L114.27 533.39L101.76 545.90L89.25 533.39Z" fill="#ee2425"/>
<text transform="translate(102.06 535.79) rotate(0.03) scale(1.23 1)" font-size="6.70" text-anchor="middle" fill="#000" stroke="#000" stroke-width="0.12">0.7</text>
<path d="M128.38 520.88L140.89 533.39L128.38 545.90L115.87 533.39Z" fill="#fdc070"/>
<path d="M155.00 520.88L167.51 533.39L155.00 545.90L142.49 533.39Z" fill="#d0f5f5"/>
<path d="M181.62 520.88L194.13 533.39L181.62 545.90L169.11 533.39Z" fill="#f0fac8"/>
<path d="M208.24 520.88L220.75 533.39L208.24 545.90L195.73 533.39Z" fill="#f53a2c"/>
<text transform="translate(208.54 535.79) rotate(0.03) scale(1.23 1)" font-size="6.70" text-anchor="middle" fill="#000" stroke="#000" stroke-width="0.12">0.6</text>
<path d="M234.86 520.88L247.37 533.39L234.86 545.90L222.35 533.39Z" fill="#fdc070"/>
<path d="M261.48 520.88L273.99 533.39L261.48 545.90L248.97 533.39Z" fill="#fbe984"/>
<path d="M155.00 413.60L288.10 546.70L21.90 546.70Z" fill="none" stroke="#000" stroke-width="1.5" stroke-linejoin="miter"/>
<line x1="28.56" y1="540.05" x2="26.56" y2="538.05" stroke="#000" stroke-width="1.00"/>
<text transform="translate(23.06 538.05) rotate(45) scale(1.071 1)" font-size="6.50" text-anchor="end" fill="#000" stroke="#000" stroke-width="0.20">Helios</text>
<line x1="161.66" y1="420.25" x2="163.66" y2="418.25" stroke="#000" stroke-width="1.00"/>
<text transform="translate(167.85 418.75) rotate(-45) scale(1.071 1)" font-size="6.50" text-anchor="start" fill="#000" stroke="#000" stroke-width="0.20">Helios</text>
<line x1="41.87" y1="526.74" x2="39.87" y2="524.74" stroke="#000" stroke-width="1.00"/>
<text transform="translate(36.37 524.74) rotate(45) scale(1.128 1)" font-size="6.50" text-anchor="end" fill="#000" stroke="#000" stroke-width="0.20">ICOS+</text>
<line x1="174.97" y1="433.56" x2="176.97" y2="431.56" stroke="#000" stroke-width="1.00"/>
<text transform="translate(181.16 432.06) rotate(-45) scale(1.128 1)" font-size="6.50" text-anchor="start" fill="#000" stroke="#000" stroke-width="0.20">ICOS+</text>
<line x1="55.18" y1="513.43" x2="53.18" y2="511.43" stroke="#000" stroke-width="1.00"/>
<text transform="translate(49.68 511.43) rotate(45) scale(1.146 1)" font-size="6.50" text-anchor="end" fill="#000" stroke="#000" stroke-width="0.20">CXCR5</text>
<line x1="188.28" y1="446.88" x2="190.28" y2="444.88" stroke="#000" stroke-width="1.00"/>
<text transform="translate(194.47 445.38) rotate(-45) scale(1.146 1)" font-size="6.50" text-anchor="start" fill="#000" stroke="#000" stroke-width="0.20">CXCR5</text>
<line x1="68.49" y1="500.12" x2="66.49" y2="498.12" stroke="#000" stroke-width="1.00"/>
<text transform="translate(62.99 498.12) rotate(45) scale(1.07 1)" font-size="6.50" text-anchor="end" fill="#000" stroke="#000" stroke-width="0.20">Aiolos</text>
<line x1="201.59" y1="460.19" x2="203.59" y2="458.19" stroke="#000" stroke-width="1.00"/>
<text transform="translate(207.78 458.69) rotate(-45) scale(1.07 1)" font-size="6.50" text-anchor="start" fill="#000" stroke="#000" stroke-width="0.20">Aiolos</text>
<line x1="81.80" y1="486.81" x2="79.80" y2="484.81" stroke="#000" stroke-width="1.00"/>
<text transform="translate(76.30 484.81) rotate(45) scale(1.058 1)" font-size="6.50" text-anchor="end" fill="#000" stroke="#000" stroke-width="0.20">Ikaros</text>
<line x1="214.90" y1="473.50" x2="216.90" y2="471.50" stroke="#000" stroke-width="1.00"/>
<text transform="translate(221.09 472.00) rotate(-45) scale(1.058 1)" font-size="6.50" text-anchor="start" fill="#000" stroke="#000" stroke-width="0.20">Ikaros</text>
<line x1="95.11" y1="473.50" x2="93.11" y2="471.50" stroke="#000" stroke-width="1.00"/>
<text transform="translate(89.61 471.50) rotate(45) scale(1.164 1)" font-size="6.50" text-anchor="end" fill="#000" stroke="#000" stroke-width="0.20">CD39+</text>
<line x1="228.20" y1="486.81" x2="230.20" y2="484.81" stroke="#000" stroke-width="1.00"/>
<text transform="translate(234.40 485.31) rotate(-45) scale(1.164 1)" font-size="6.50" text-anchor="start" fill="#000" stroke="#000" stroke-width="0.20">CD39+</text>
<line x1="108.42" y1="460.19" x2="106.42" y2="458.19" stroke="#000" stroke-width="1.00"/>
<text transform="translate(102.92 458.19) rotate(45) scale(1.159 1)" font-size="6.50" text-anchor="end" fill="#000" stroke="#000" stroke-width="0.20">PD1</text>
<line x1="241.51" y1="500.12" x2="243.51" y2="498.12" stroke="#000" stroke-width="1.00"/>
<text transform="translate(247.71 498.62) rotate(-45) scale(1.159 1)" font-size="6.50" text-anchor="start" fill="#000" stroke="#000" stroke-width="0.20">PD1</text>
<line x1="121.73" y1="446.88" x2="119.73" y2="444.88" stroke="#000" stroke-width="1.00"/>
<text transform="translate(116.23 444.88) rotate(45) scale(1.174 1)" font-size="6.50" text-anchor="end" fill="#000" stroke="#000" stroke-width="0.20">CD134+</text>
<line x1="254.82" y1="513.43" x2="256.82" y2="511.43" stroke="#000" stroke-width="1.00"/>
<text transform="translate(261.02 511.93) rotate(-45) scale(1.174 1)" font-size="6.50" text-anchor="start" fill="#000" stroke="#000" stroke-width="0.20">CD134+</text>
<line x1="135.04" y1="433.57" x2="133.04" y2="431.57" stroke="#000" stroke-width="1.00"/>
<text transform="translate(129.54 431.57) rotate(45) scale(1.147 1)" font-size="6.50" text-anchor="end" fill="#000" stroke="#000" stroke-width="0.20">TIM3+</text>
<line x1="268.13" y1="526.74" x2="270.13" y2="524.74" stroke="#000" stroke-width="1.00"/>
<text transform="translate(274.33 525.24) rotate(-45) scale(1.147 1)" font-size="6.50" text-anchor="start" fill="#000" stroke="#000" stroke-width="0.20">TIM3+</text>
<line x1="148.35" y1="420.26" x2="146.35" y2="418.26" stroke="#000" stroke-width="1.00"/>
<text transform="translate(142.85 418.26) rotate(45) scale(1.164 1)" font-size="6.50" text-anchor="end" fill="#000" stroke="#000" stroke-width="0.20">CD57+</text>
<line x1="281.44" y1="540.05" x2="283.44" y2="538.05" stroke="#000" stroke-width="1.00"/>
<text transform="translate(287.64 538.55) rotate(-45) scale(1.164 1)" font-size="6.50" text-anchor="start" fill="#000" stroke="#000" stroke-width="0.20">CD57+</text>
<text transform="translate(258.00 414.80) rotate(0.03) scale(1.13 1)" font-size="6.50" text-anchor="start" fill="#000" stroke="#000" stroke-width="0.17">R</text>
<defs><linearGradient id="cb" x1="0" y1="0" x2="0" y2="1"><stop offset="0" stop-color="#ea2420"/><stop offset="0.06" stop-color="#f0302a"/><stop offset="0.15" stop-color="#fa5a3c"/><stop offset="0.26" stop-color="#fd9f5c"/><stop offset="0.38" stop-color="#fbe984"/><stop offset="0.5" stop-color="#f5fbb8"/><stop offset="0.6" stop-color="#e0f8ec"/><stop offset="0.74" stop-color="#a6e0f2"/><stop offset="0.86" stop-color="#6aaaea"/><stop offset="1" stop-color="#2e74e6"/></linearGradient></defs>
<rect x="258.1" y="418.0" width="9.8" height="36.4" fill="url(#cb)"/>
<text transform="translate(270.60 421.00) rotate(0.03) scale(1.23 1)" font-size="6.50" text-anchor="start" fill="#000" stroke="#000" stroke-width="0.17">0.8</text>
<line x1="258.10" y1="418.60" x2="260.00" y2="418.60" stroke="#fff" stroke-width="0.50"/>
<line x1="266.00" y1="418.60" x2="267.90" y2="418.60" stroke="#fff" stroke-width="0.50"/>
<text transform="translate(270.60 429.95) rotate(0.03) scale(1.23 1)" font-size="6.50" text-anchor="start" fill="#000" stroke="#000" stroke-width="0.17">0.4</text>
<line x1="258.10" y1="427.55" x2="260.00" y2="427.55" stroke="#fff" stroke-width="0.50"/>
<line x1="266.00" y1="427.55" x2="267.90" y2="427.55" stroke="#fff" stroke-width="0.50"/>
<text transform="translate(270.60 438.90) rotate(0.03) scale(1.23 1)" font-size="6.50" text-anchor="start" fill="#000" stroke="#000" stroke-width="0.17">0.0</text>
<line x1="258.10" y1="436.50" x2="260.00" y2="436.50" stroke="#fff" stroke-width="0.50"/>
<line x1="266.00" y1="436.50" x2="267.90" y2="436.50" stroke="#fff" stroke-width="0.50"/>
<text transform="translate(270.60 447.85) rotate(0.03) scale(1.197 1)" font-size="6.50" text-anchor="start" fill="#000" stroke="#000" stroke-width="0.17">−0.4</text>
<line x1="258.10" y1="445.45" x2="260.00" y2="445.45" stroke="#fff" stroke-width="0.50"/>
<line x1="266.00" y1="445.45" x2="267.90" y2="445.45" stroke="#fff" stroke-width="0.50"/>
<text transform="translate(270.60 456.80) rotate(0.03) scale(1.197 1)" font-size="6.50" text-anchor="start" fill="#000" stroke="#000" stroke-width="0.17">−0.8</text>
<line x1="258.10" y1="454.40" x2="260.00" y2="454.40" stroke="#fff" stroke-width="0.50"/>
<line x1="266.00" y1="454.40" x2="267.90" y2="454.40" stroke="#fff" stroke-width="0.50"/>
<text transform="translate(304.50 386.50) rotate(0.03) scale(1.12 1)" font-size="10.30" text-anchor="start" fill="#000" font-weight="bold" stroke="#000" stroke-width="0.20">E</text>
<line x1="416.00" y1="378.20" x2="428.50" y2="378.20" stroke="#d0081e" stroke-width="1.35"/>
<circle cx="422.2" cy="378.2" r="2.2" fill="#d0081e"/>
<text transform="translate(430.50 380.70) rotate(0.03) scale(1.07 1)" font-size="6.50" text-anchor="start" fill="#000" stroke="#000" stroke-width="0.17">FoxP3<tspan dy="-2.60" font-size="5.52">+</tspan><tspan dy="2.60" font-size="6.50">&#8203;</tspan> CD25<tspan dy="-2.60" font-size="5.52">−</tspan><tspan dy="2.60" font-size="6.50">&#8203;</tspan></text>
<line x1="416.00" y1="395.80" x2="428.50" y2="395.80" stroke="#0c36b8" stroke-width="1.35"/>
<circle cx="422.2" cy="395.8" r="2.2" fill="#0c36b8"/>
<text transform="translate(430.50 398.30) rotate(0.03) scale(1.07 1)" font-size="6.50" text-anchor="start" fill="#000" stroke="#000" stroke-width="0.17">FoxP3<tspan dy="-2.60" font-size="5.52">+</tspan><tspan dy="2.60" font-size="6.50">&#8203;</tspan> CD25<tspan dy="-2.60" font-size="5.52">+</tspan><tspan dy="2.60" font-size="6.50">&#8203;</tspan></text>
<rect x="381.70" y="405.40" width="130.70" height="141.70" fill="none" stroke="#000" stroke-width="1.20"/>
<line x1="459.00" y1="405.40" x2="459.00" y2="547.10" stroke="#1a1a1a" stroke-width="1.00" stroke-dasharray="2.1 2.1"/>
<line x1="411.40" y1="547.10" x2="411.40" y2="550.30" stroke="#000" stroke-width="1.00"/>
<text transform="translate(410.00 558.40) rotate(0.03) scale(1.174 1)" font-size="6.50" text-anchor="middle" fill="#000" stroke="#000" stroke-width="0.17">−8</text>
<line x1="435.20" y1="547.10" x2="435.20" y2="550.30" stroke="#000" stroke-width="1.00"/>
<text transform="translate(433.80 558.40) rotate(0.03) scale(1.174 1)" font-size="6.50" text-anchor="middle" fill="#000" stroke="#000" stroke-width="0.17">−4</text>
<line x1="459.00" y1="547.10" x2="459.00" y2="550.30" stroke="#000" stroke-width="1.00"/>
<text transform="translate(459.00 558.40) rotate(0.03) scale(1.23 1)" font-size="6.50" text-anchor="middle" fill="#000" stroke="#000" stroke-width="0.17">0</text>
<line x1="482.80" y1="547.10" x2="482.80" y2="550.30" stroke="#000" stroke-width="1.00"/>
<text transform="translate(482.80 558.40) rotate(0.03) scale(1.23 1)" font-size="6.50" text-anchor="middle" fill="#000" stroke="#000" stroke-width="0.17">4</text>
<line x1="506.60" y1="547.10" x2="506.60" y2="550.30" stroke="#000" stroke-width="1.00"/>
<text transform="translate(506.60 558.40) rotate(0.03) scale(1.23 1)" font-size="6.50" text-anchor="middle" fill="#000" stroke="#000" stroke-width="0.17">8</text>
<text transform="translate(447.00 571.00) rotate(0.03) scale(0.72 1)" font-size="8.70" text-anchor="middle" fill="#000" stroke="#000" stroke-width="0.40">Estimate</text>
<line x1="453.64" y1="425.80" x2="471.50" y2="425.80" stroke="#0c36b8" stroke-width="1.35"/>
<circle cx="462.57" cy="425.80" r="2.2" fill="#0c36b8"/>
<text transform="translate(387.00 428.20) rotate(0.03) scale(1.2 1)" font-size="6.50" text-anchor="start" fill="#000" stroke="#000" stroke-width="0.17"><tspan font-style="italic">p</tspan> = 0.428</text>
<line x1="445.31" y1="437.30" x2="472.09" y2="437.30" stroke="#d0081e" stroke-width="1.35"/>
<circle cx="459.00" cy="437.30" r="2.2" fill="#d0081e"/>
<text transform="translate(387.00 439.20) rotate(0.03) scale(1.2 1)" font-size="6.50" text-anchor="start" fill="#000" stroke="#000" stroke-width="0.17"><tspan font-style="italic">p</tspan> = 0.964</text>
<line x1="460.19" y1="470.70" x2="482.20" y2="470.70" stroke="#0c36b8" stroke-width="1.35"/>
<circle cx="471.50" cy="470.70" r="2.2" fill="#0c36b8"/>
<text transform="translate(387.00 473.10) rotate(0.03) scale(1.2 1)" font-size="6.50" text-anchor="start" fill="#000" stroke="#000" stroke-width="0.17"><tspan font-style="italic">p</tspan> = 0.029</text>
<line x1="459.00" y1="481.70" x2="506.60" y2="481.70" stroke="#d0081e" stroke-width="1.35"/>
<circle cx="482.20" cy="481.70" r="2.2" fill="#d0081e"/>
<text transform="translate(387.00 483.60) rotate(0.03) scale(1.2 1)" font-size="6.50" text-anchor="start" fill="#000" stroke="#000" stroke-width="0.17"><tspan font-style="italic">p</tspan> = 0.055</text>
<line x1="435.80" y1="514.70" x2="459.00" y2="514.70" stroke="#0c36b8" stroke-width="1.35"/>
<circle cx="447.10" cy="514.70" r="2.2" fill="#0c36b8"/>
<text transform="translate(387.00 517.10) rotate(0.03) scale(1.2 1)" font-size="6.50" text-anchor="start" fill="#000" stroke="#000" stroke-width="0.17"><tspan font-style="italic">p</tspan> = 0.036</text>
<line x1="421.51" y1="526.10" x2="459.00" y2="526.10" stroke="#d0081e" stroke-width="1.35"/>
<circle cx="439.96" cy="526.10" r="2.2" fill="#d0081e"/>
<text transform="translate(387.00 528.00) rotate(0.03) scale(1.2 1)" font-size="6.50" text-anchor="start" fill="#000" stroke="#000" stroke-width="0.17"><tspan font-style="italic">p</tspan> = 0.05</text>
<line x1="378.50" y1="431.75" x2="381.70" y2="431.75" stroke="#000" stroke-width="1.00"/>
<line x1="378.50" y1="476.25" x2="381.70" y2="476.25" stroke="#000" stroke-width="1.00"/>
<line x1="378.50" y1="520.00" x2="381.70" y2="520.00" stroke="#000" stroke-width="1.00"/>
<text transform="translate(375.20 429.30) rotate(0.03) scale(1.145 1)" font-size="6.50" text-anchor="end" fill="#000" stroke="#000" stroke-width="0.17">% of T cells</text>
<text transform="translate(375.20 439.90) rotate(0.03) scale(1.13 1)" font-size="6.50" text-anchor="end" fill="#000" stroke="#000" stroke-width="0.17">at baseline</text>
<text transform="translate(375.20 474.90) rotate(0.03) scale(1.2 1)" font-size="6.50" text-anchor="end" fill="#000" stroke="#000" stroke-width="0.17">ICOS<tspan dy="-2.60" font-size="5.52">+</tspan><tspan dy="2.60" font-size="6.50">&#8203;</tspan></text>
<text transform="translate(375.20 485.30) rotate(0.03) scale(1.17 1)" font-size="6.50" text-anchor="end" fill="#000" stroke="#000" stroke-width="0.17">FoxP3<tspan dy="-2.60" font-size="5.52">+</tspan><tspan dy="2.60" font-size="6.50">&#8203;</tspan> CD25<tspan dy="-2.60" font-size="5.52">+/−</tspan><tspan dy="2.60" font-size="6.50">&#8203;</tspan></text>
<text transform="translate(375.20 520.20) rotate(0.03) scale(1.1 1)" font-size="6.50" text-anchor="end" fill="#000" stroke="#000" stroke-width="0.17">Helios</text>
<text transform="translate(375.20 529.50) rotate(0.03) scale(1.17 1)" font-size="6.50" text-anchor="end" fill="#000" stroke="#000" stroke-width="0.17">FoxP3<tspan dy="-2.60" font-size="5.52">+</tspan><tspan dy="2.60" font-size="6.50">&#8203;</tspan> CD25<tspan dy="-2.60" font-size="5.52">+/−</tspan><tspan dy="2.60" font-size="6.50">&#8203;</tspan></text>
<rect x="0" y="0" width="520" height="1.4" fill="#000"/><rect x="0" y="577.4" width="520" height="1.6" fill="#000"/><rect x="0" y="0" width="1.4" height="579" fill="#000"/><rect x="518.7" y="0" width="1.3" height="579" fill="#000"/>
</svg>
</body>
</html>
